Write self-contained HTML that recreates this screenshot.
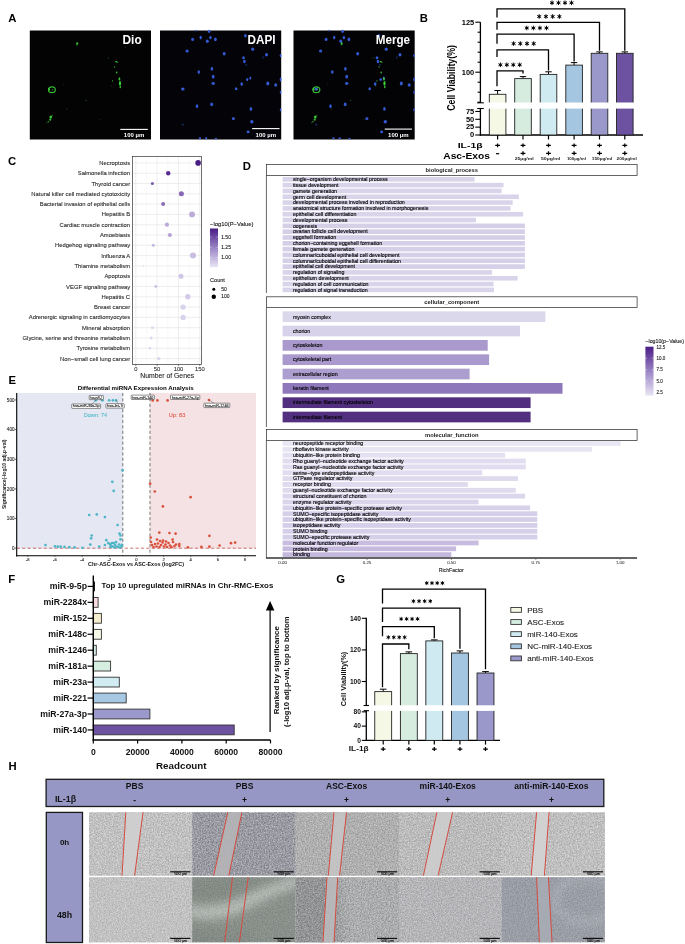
<!DOCTYPE html>
<html><head><meta charset="utf-8"><style>
html,body{margin:0;padding:0;background:#fff;}
svg{display:block;font-family:"Liberation Sans",sans-serif;will-change:transform;}
</style></head><body>
<svg width="685" height="944" viewBox="0 0 685 944">
<rect width="685" height="944" fill="#fff"/>
<text x="8.33" y="21.7" font-size="11.3" font-weight="bold" text-anchor="start" fill="#000">A</text>
<text x="419.7" y="21.6" font-size="11.3" font-weight="bold" text-anchor="start" fill="#000">B</text>
<text x="8.1" y="165.4" font-size="11.3" font-weight="bold" text-anchor="start" fill="#000">C</text>
<text x="242.84" y="169.8" font-size="11.3" font-weight="bold" text-anchor="start" fill="#000">D</text>
<text x="8.58" y="383.7" font-size="11.3" font-weight="bold" text-anchor="start" fill="#000">E</text>
<text x="8.33" y="582.8" font-size="11.3" font-weight="bold" text-anchor="start" fill="#000">F</text>
<text x="336.33" y="582.6" font-size="11.3" font-weight="bold" text-anchor="start" fill="#000">G</text>
<text x="8.43" y="770.1" font-size="11.3" font-weight="bold" text-anchor="start" fill="#000">H</text>
<rect x="29.8" y="30.5" width="121.2" height="109.0" fill="#030303"/>
<rect x="160" y="30.5" width="121.2" height="109.0" fill="#040408"/>
<rect x="293.5" y="30.5" width="121.2" height="109.0" fill="#030306"/>
<g transform="translate(0,0)">
<ellipse cx="195.7" cy="30.6" rx="1.2" ry="0.9" fill="#3459d2" opacity="0.6"/>
<ellipse cx="209.1" cy="31.3" rx="1.3" ry="1.6" fill="#3459d2" opacity="1"/>
<ellipse cx="192.6" cy="39.4" rx="1.4" ry="1.7" fill="#3459d2" opacity="1"/>
<ellipse cx="200.7" cy="37.6" rx="1.2" ry="1.8" fill="#3459d2" opacity="1"/>
<ellipse cx="207.3" cy="41.2" rx="1.5" ry="1.7" fill="#3459d2" opacity="1"/>
<ellipse cx="210.4" cy="37.6" rx="1.3" ry="1.7" fill="#3459d2" opacity="1"/>
<ellipse cx="215.4" cy="39.4" rx="1.4" ry="1.8" fill="#3459d2" opacity="1"/>
<ellipse cx="187.1" cy="51" rx="1.6" ry="1.5" fill="#3459d2" opacity="1"/>
<ellipse cx="224.2" cy="53.7" rx="1.5" ry="1.8" fill="#3459d2" opacity="1"/>
<ellipse cx="252.7" cy="49.2" rx="1.6" ry="1.6" fill="#3459d2" opacity="1"/>
<ellipse cx="245.4" cy="35.7" rx="1.4" ry="1.8" fill="#3459d2" opacity="1"/>
<ellipse cx="266.5" cy="54.7" rx="1.5" ry="1.7" fill="#3459d2" opacity="1"/>
<ellipse cx="280.6" cy="55.6" rx="0.9" ry="1.6" fill="#3459d2" opacity="1"/>
<ellipse cx="243.5" cy="57.8" rx="1.4" ry="1.5" fill="#3459d2" opacity="1"/>
<ellipse cx="244.4" cy="61.5" rx="1.3" ry="1.7" fill="#3459d2" opacity="1"/>
<ellipse cx="246.3" cy="64.8" rx="1.0" ry="1.0" fill="#3459d2" opacity="0.4"/>
<ellipse cx="263.4" cy="57.4" rx="1.0" ry="1.2" fill="#3459d2" opacity="0.35"/>
<ellipse cx="211.9" cy="68.8" rx="1.3" ry="1.9" fill="#3459d2" opacity="1"/>
<ellipse cx="198.8" cy="72.1" rx="1.3" ry="1.8" fill="#3459d2" opacity="1"/>
<ellipse cx="213.2" cy="76.7" rx="1.4" ry="1.9" fill="#3459d2" opacity="1"/>
<ellipse cx="213.2" cy="83.5" rx="1.7" ry="1.4" fill="#3459d2" opacity="1"/>
<ellipse cx="182.8" cy="89.1" rx="1.8" ry="1.5" fill="#3459d2" opacity="1"/>
<ellipse cx="241.7" cy="84.1" rx="1.3" ry="1.8" fill="#3459d2" opacity="1"/>
<ellipse cx="247.2" cy="79.5" rx="1.2" ry="1.6" fill="#3459d2" opacity="1"/>
<ellipse cx="250.3" cy="78" rx="1.0" ry="1.5" fill="#3459d2" opacity="1"/>
<ellipse cx="236.2" cy="88.7" rx="1.3" ry="1.5" fill="#3459d2" opacity="1"/>
<ellipse cx="267.8" cy="83.5" rx="1.5" ry="1.9" fill="#3459d2" opacity="1"/>
<ellipse cx="275.7" cy="85" rx="1.5" ry="1.7" fill="#3459d2" opacity="1"/>
<ellipse cx="280.6" cy="79.5" rx="0.9" ry="1.9" fill="#3459d2" opacity="1"/>
<ellipse cx="280.6" cy="92.4" rx="0.8" ry="1.4" fill="#3459d2" opacity="1"/>
<ellipse cx="197" cy="106.2" rx="1.2" ry="1.9" fill="#3459d2" opacity="1"/>
<ellipse cx="211.7" cy="104.3" rx="1.4" ry="1.9" fill="#3459d2" opacity="1"/>
<ellipse cx="250.9" cy="108.9" rx="1.3" ry="1.9" fill="#3459d2" opacity="1"/>
<ellipse cx="280.6" cy="109.8" rx="0.8" ry="1.5" fill="#3459d2" opacity="1"/>
<ellipse cx="233.4" cy="118.7" rx="1.6" ry="1.4" fill="#3459d2" opacity="1"/>
<ellipse cx="251.8" cy="121.8" rx="1.7" ry="1.8" fill="#3459d2" opacity="1"/>
<ellipse cx="182.8" cy="124.6" rx="1.2" ry="1.2" fill="#3459d2" opacity="0.35"/>
<ellipse cx="248.1" cy="131.9" rx="1.5" ry="1.4" fill="#3459d2" opacity="1"/>
<ellipse cx="199.9" cy="138.2" rx="1.2" ry="1" fill="#3459d2" opacity="1"/>
<ellipse cx="206.2" cy="138.2" rx="1.2" ry="1" fill="#3459d2" opacity="1"/>
<ellipse cx="215.9" cy="138.6" rx="1.2" ry="0.8" fill="#3459d2" opacity="1"/>
</g>
<g transform="translate(133.5,0)">
<ellipse cx="195.7" cy="30.6" rx="1.2" ry="0.9" fill="#3459d2" opacity="0.6"/>
<ellipse cx="209.1" cy="31.3" rx="1.3" ry="1.6" fill="#3459d2" opacity="1"/>
<ellipse cx="192.6" cy="39.4" rx="1.4" ry="1.7" fill="#3459d2" opacity="1"/>
<ellipse cx="200.7" cy="37.6" rx="1.2" ry="1.8" fill="#3459d2" opacity="1"/>
<ellipse cx="207.3" cy="41.2" rx="1.5" ry="1.7" fill="#3459d2" opacity="1"/>
<ellipse cx="210.4" cy="37.6" rx="1.3" ry="1.7" fill="#3459d2" opacity="1"/>
<ellipse cx="215.4" cy="39.4" rx="1.4" ry="1.8" fill="#3459d2" opacity="1"/>
<ellipse cx="187.1" cy="51" rx="1.6" ry="1.5" fill="#3459d2" opacity="1"/>
<ellipse cx="224.2" cy="53.7" rx="1.5" ry="1.8" fill="#3459d2" opacity="1"/>
<ellipse cx="252.7" cy="49.2" rx="1.6" ry="1.6" fill="#3459d2" opacity="1"/>
<ellipse cx="245.4" cy="35.7" rx="1.4" ry="1.8" fill="#3459d2" opacity="1"/>
<ellipse cx="266.5" cy="54.7" rx="1.5" ry="1.7" fill="#3459d2" opacity="1"/>
<ellipse cx="280.6" cy="55.6" rx="0.9" ry="1.6" fill="#3459d2" opacity="1"/>
<ellipse cx="243.5" cy="57.8" rx="1.4" ry="1.5" fill="#3459d2" opacity="1"/>
<ellipse cx="244.4" cy="61.5" rx="1.3" ry="1.7" fill="#3459d2" opacity="1"/>
<ellipse cx="246.3" cy="64.8" rx="1.0" ry="1.0" fill="#3459d2" opacity="0.4"/>
<ellipse cx="263.4" cy="57.4" rx="1.0" ry="1.2" fill="#3459d2" opacity="0.35"/>
<ellipse cx="211.9" cy="68.8" rx="1.3" ry="1.9" fill="#3459d2" opacity="1"/>
<ellipse cx="198.8" cy="72.1" rx="1.3" ry="1.8" fill="#3459d2" opacity="1"/>
<ellipse cx="213.2" cy="76.7" rx="1.4" ry="1.9" fill="#3459d2" opacity="1"/>
<ellipse cx="213.2" cy="83.5" rx="1.7" ry="1.4" fill="#3459d2" opacity="1"/>
<ellipse cx="182.8" cy="89.1" rx="1.8" ry="1.5" fill="#3459d2" opacity="1"/>
<ellipse cx="241.7" cy="84.1" rx="1.3" ry="1.8" fill="#3459d2" opacity="1"/>
<ellipse cx="247.2" cy="79.5" rx="1.2" ry="1.6" fill="#3459d2" opacity="1"/>
<ellipse cx="250.3" cy="78" rx="1.0" ry="1.5" fill="#3459d2" opacity="1"/>
<ellipse cx="236.2" cy="88.7" rx="1.3" ry="1.5" fill="#3459d2" opacity="1"/>
<ellipse cx="267.8" cy="83.5" rx="1.5" ry="1.9" fill="#3459d2" opacity="1"/>
<ellipse cx="275.7" cy="85" rx="1.5" ry="1.7" fill="#3459d2" opacity="1"/>
<ellipse cx="280.6" cy="79.5" rx="0.9" ry="1.9" fill="#3459d2" opacity="1"/>
<ellipse cx="280.6" cy="92.4" rx="0.8" ry="1.4" fill="#3459d2" opacity="1"/>
<ellipse cx="197" cy="106.2" rx="1.2" ry="1.9" fill="#3459d2" opacity="1"/>
<ellipse cx="211.7" cy="104.3" rx="1.4" ry="1.9" fill="#3459d2" opacity="1"/>
<ellipse cx="250.9" cy="108.9" rx="1.3" ry="1.9" fill="#3459d2" opacity="1"/>
<ellipse cx="280.6" cy="109.8" rx="0.8" ry="1.5" fill="#3459d2" opacity="1"/>
<ellipse cx="233.4" cy="118.7" rx="1.6" ry="1.4" fill="#3459d2" opacity="1"/>
<ellipse cx="251.8" cy="121.8" rx="1.7" ry="1.8" fill="#3459d2" opacity="1"/>
<ellipse cx="182.8" cy="124.6" rx="1.2" ry="1.2" fill="#3459d2" opacity="0.35"/>
<ellipse cx="248.1" cy="131.9" rx="1.5" ry="1.4" fill="#3459d2" opacity="1"/>
<ellipse cx="199.9" cy="138.2" rx="1.2" ry="1" fill="#3459d2" opacity="1"/>
<ellipse cx="206.2" cy="138.2" rx="1.2" ry="1" fill="#3459d2" opacity="1"/>
<ellipse cx="215.9" cy="138.6" rx="1.2" ry="0.8" fill="#3459d2" opacity="1"/>
</g>
<g transform="translate(0,0)">
<ellipse cx="51.9" cy="89.7" rx="3.4" ry="2.9" fill="none" stroke="#3ccc38" stroke-width="1.2" opacity="0.9"/>
<ellipse cx="77.2" cy="43.6" rx="1.0" ry="1.3" fill="#3ccc38" opacity="0.95"/>
<ellipse cx="76.6" cy="45.0" rx="0.6" ry="0.6" fill="#3ccc38" opacity="0.6"/>
<ellipse cx="108.6" cy="57.9" rx="0.5" ry="0.5" fill="#3ccc38" opacity="0.6"/>
<ellipse cx="116.3" cy="61.8" rx="1.2" ry="0.8" fill="#3ccc38" opacity="0.9"/>
<ellipse cx="117.6" cy="62.6" rx="0.6" ry="0.5" fill="#3ccc38" opacity="0.8"/>
<ellipse cx="114.5" cy="66.9" rx="0.7" ry="0.7" fill="#3ccc38" opacity="0.8"/>
<ellipse cx="116.7" cy="72.4" rx="0.8" ry="1.0" fill="#3ccc38" opacity="0.9"/>
<ellipse cx="119.4" cy="78.9" rx="0.9" ry="1.6" fill="#3ccc38" opacity="0.95"/>
<ellipse cx="120.0" cy="83.4" rx="1.1" ry="2.4" fill="#3ccc38" opacity="1"/>
<ellipse cx="120.3" cy="87.0" rx="0.8" ry="1.2" fill="#3ccc38" opacity="0.9"/>
<ellipse cx="112.5" cy="80.9" rx="0.6" ry="0.8" fill="#3ccc38" opacity="0.7"/>
<ellipse cx="111.3" cy="85.9" rx="0.4" ry="0.5" fill="#3ccc38" opacity="0.5"/>
<ellipse cx="85.9" cy="100.4" rx="0.5" ry="0.7" fill="#3ccc38" opacity="0.55"/>
<ellipse cx="66.9" cy="109.1" rx="0.5" ry="0.5" fill="#3ccc38" opacity="0.5"/>
<ellipse cx="99.5" cy="119.4" rx="0.45" ry="0.45" fill="#3ccc38" opacity="0.5"/>
<ellipse cx="125.8" cy="47" rx="0.45" ry="0.45" fill="#3ccc38" opacity="0.55"/>
<ellipse cx="63.3" cy="84.5" rx="0.4" ry="0.4" fill="#3ccc38" opacity="0.45"/>
<ellipse cx="50.8" cy="117.0" rx="1.3" ry="1.6" fill="#3ccc38" opacity="1"/>
<ellipse cx="50.2" cy="119.6" rx="1.0" ry="1.2" fill="#3ccc38" opacity="0.9"/>
<ellipse cx="48.4" cy="121.8" rx="0.9" ry="0.7" fill="#3ccc38" opacity="0.7"/>
<ellipse cx="46.9" cy="122.8" rx="0.6" ry="0.5" fill="#3ccc38" opacity="0.5"/>
<ellipse cx="52.3" cy="115.6" rx="0.6" ry="0.6" fill="#3ccc38" opacity="0.7"/>
<ellipse cx="49.0" cy="89.3" rx="1.0" ry="1.4" fill="#3ccc38" opacity="0.95"/>
<ellipse cx="52.5" cy="89.8" rx="0.8" ry="0.8" fill="#3ccc38" opacity="0.6"/>
</g>
<g transform="translate(264.5,0)">
<ellipse cx="51.9" cy="89.7" rx="3.4" ry="2.9" fill="none" stroke="#3ccc38" stroke-width="1.2" opacity="0.9"/>
<ellipse cx="77.2" cy="43.6" rx="1.0" ry="1.3" fill="#3ccc38" opacity="0.95"/>
<ellipse cx="76.6" cy="45.0" rx="0.6" ry="0.6" fill="#3ccc38" opacity="0.6"/>
<ellipse cx="108.6" cy="57.9" rx="0.5" ry="0.5" fill="#3ccc38" opacity="0.6"/>
<ellipse cx="116.3" cy="61.8" rx="1.2" ry="0.8" fill="#3ccc38" opacity="0.9"/>
<ellipse cx="117.6" cy="62.6" rx="0.6" ry="0.5" fill="#3ccc38" opacity="0.8"/>
<ellipse cx="114.5" cy="66.9" rx="0.7" ry="0.7" fill="#3ccc38" opacity="0.8"/>
<ellipse cx="116.7" cy="72.4" rx="0.8" ry="1.0" fill="#3ccc38" opacity="0.9"/>
<ellipse cx="119.4" cy="78.9" rx="0.9" ry="1.6" fill="#3ccc38" opacity="0.95"/>
<ellipse cx="120.0" cy="83.4" rx="1.1" ry="2.4" fill="#3ccc38" opacity="1"/>
<ellipse cx="120.3" cy="87.0" rx="0.8" ry="1.2" fill="#3ccc38" opacity="0.9"/>
<ellipse cx="112.5" cy="80.9" rx="0.6" ry="0.8" fill="#3ccc38" opacity="0.7"/>
<ellipse cx="111.3" cy="85.9" rx="0.4" ry="0.5" fill="#3ccc38" opacity="0.5"/>
<ellipse cx="85.9" cy="100.4" rx="0.5" ry="0.7" fill="#3ccc38" opacity="0.55"/>
<ellipse cx="66.9" cy="109.1" rx="0.5" ry="0.5" fill="#3ccc38" opacity="0.5"/>
<ellipse cx="99.5" cy="119.4" rx="0.45" ry="0.45" fill="#3ccc38" opacity="0.5"/>
<ellipse cx="125.8" cy="47" rx="0.45" ry="0.45" fill="#3ccc38" opacity="0.55"/>
<ellipse cx="63.3" cy="84.5" rx="0.4" ry="0.4" fill="#3ccc38" opacity="0.45"/>
<ellipse cx="50.8" cy="117.0" rx="1.3" ry="1.6" fill="#3ccc38" opacity="1"/>
<ellipse cx="50.2" cy="119.6" rx="1.0" ry="1.2" fill="#3ccc38" opacity="0.9"/>
<ellipse cx="48.4" cy="121.8" rx="0.9" ry="0.7" fill="#3ccc38" opacity="0.7"/>
<ellipse cx="46.9" cy="122.8" rx="0.6" ry="0.5" fill="#3ccc38" opacity="0.5"/>
<ellipse cx="52.3" cy="115.6" rx="0.6" ry="0.6" fill="#3ccc38" opacity="0.7"/>
<ellipse cx="49.0" cy="89.3" rx="1.0" ry="1.4" fill="#3ccc38" opacity="0.95"/>
<ellipse cx="52.5" cy="89.8" rx="0.8" ry="0.8" fill="#3ccc38" opacity="0.6"/>
</g>
<text x="122.5" y="43.9" font-size="12.4" font-weight="bold" text-anchor="start" fill="#fff" textLength="19.2" lengthAdjust="spacingAndGlyphs">Dio</text>
<text x="247.5" y="43.9" font-size="12.4" font-weight="bold" text-anchor="start" fill="#fff" textLength="28.0" lengthAdjust="spacingAndGlyphs">DAPI</text>
<text x="375.8" y="43.9" font-size="12.4" font-weight="bold" text-anchor="start" fill="#fff" textLength="34.3" lengthAdjust="spacingAndGlyphs">Merge</text>
<line x1="120.3" y1="129.4" x2="147.8" y2="129.4" stroke="#fff" stroke-width="1.1"/>
<text x="134.05" y="136.6" font-size="5.2" font-weight="bold" text-anchor="middle" fill="#fff" textLength="20.5" lengthAdjust="spacingAndGlyphs">100 µm</text>
<line x1="252.1" y1="128.6" x2="279.5" y2="128.6" stroke="#fff" stroke-width="1.1"/>
<text x="265.8" y="136.6" font-size="5.2" font-weight="bold" text-anchor="middle" fill="#fff" textLength="20.5" lengthAdjust="spacingAndGlyphs">100 µm</text>
<line x1="384.7" y1="129.1" x2="412" y2="129.1" stroke="#fff" stroke-width="1.1"/>
<text x="398.35" y="136.6" font-size="5.2" font-weight="bold" text-anchor="middle" fill="#fff" textLength="20.5" lengthAdjust="spacingAndGlyphs">100 µm</text>
<line x1="480.4" y1="22.2" x2="480.4" y2="102.8" stroke="#000" stroke-width="1.3"/>
<line x1="480.4" y1="108.5" x2="480.4" y2="135.6" stroke="#000" stroke-width="1.3"/>
<line x1="477.2" y1="102.8" x2="483.8" y2="102.8" stroke="#000" stroke-width="1.1"/>
<line x1="477.2" y1="108.5" x2="483.8" y2="108.5" stroke="#000" stroke-width="1.1"/>
<line x1="477.6" y1="102.2" x2="480.4" y2="102.2" stroke="#000" stroke-width="1.1"/>
<line x1="477.6" y1="92.2" x2="480.4" y2="92.2" stroke="#000" stroke-width="1.1"/>
<line x1="477.6" y1="82.2" x2="480.4" y2="82.2" stroke="#000" stroke-width="1.1"/>
<line x1="475.3" y1="72.2" x2="480.4" y2="72.2" stroke="#000" stroke-width="1.1"/>
<text x="474.2" y="74.5" font-size="6.4" font-weight="bold" text-anchor="end" fill="#000" textLength="12.4" lengthAdjust="spacingAndGlyphs">100</text>
<line x1="477.6" y1="62.2" x2="480.4" y2="62.2" stroke="#000" stroke-width="1.1"/>
<line x1="477.6" y1="52.2" x2="480.4" y2="52.2" stroke="#000" stroke-width="1.1"/>
<line x1="477.6" y1="42.2" x2="480.4" y2="42.2" stroke="#000" stroke-width="1.1"/>
<line x1="477.6" y1="32.2" x2="480.4" y2="32.2" stroke="#000" stroke-width="1.1"/>
<line x1="475.3" y1="22.200000000000003" x2="480.4" y2="22.200000000000003" stroke="#000" stroke-width="1.1"/>
<text x="474.2" y="24.500000000000004" font-size="6.4" font-weight="bold" text-anchor="end" fill="#000" textLength="12.4" lengthAdjust="spacingAndGlyphs">125</text>
<line x1="475.3" y1="135.0" x2="480.4" y2="135.0" stroke="#000" stroke-width="1.1"/>
<text x="474.2" y="137.3" font-size="6.4" font-weight="bold" text-anchor="end" fill="#000" textLength="4.2" lengthAdjust="spacingAndGlyphs">0</text>
<line x1="475.3" y1="127.15" x2="480.4" y2="127.15" stroke="#000" stroke-width="1.1"/>
<text x="474.2" y="129.45000000000002" font-size="6.4" font-weight="bold" text-anchor="end" fill="#000" textLength="8.3" lengthAdjust="spacingAndGlyphs">25</text>
<line x1="475.3" y1="119.3" x2="480.4" y2="119.3" stroke="#000" stroke-width="1.1"/>
<text x="474.2" y="121.6" font-size="6.4" font-weight="bold" text-anchor="end" fill="#000" textLength="8.3" lengthAdjust="spacingAndGlyphs">50</text>
<line x1="475.3" y1="111.45" x2="480.4" y2="111.45" stroke="#000" stroke-width="1.1"/>
<text x="474.2" y="113.75" font-size="6.4" font-weight="bold" text-anchor="end" fill="#000" textLength="8.3" lengthAdjust="spacingAndGlyphs">75</text>
<line x1="479.79999999999995" y1="135.0" x2="643" y2="135.0" stroke="#000" stroke-width="1.4"/>
<line x1="497.6" y1="90.5" x2="497.6" y2="94.3" stroke="#000" stroke-width="1"/>
<line x1="494.40000000000003" y1="90.5" x2="500.8" y2="90.5" stroke="#000" stroke-width="1"/>
<rect x="489.3" y="94.3" width="16.6" height="40.7" fill="#f6f8e6" stroke="#222" stroke-width="0.9"/>
<line x1="497.6" y1="135" x2="497.6" y2="139.5" stroke="#000" stroke-width="1.2"/>
<line x1="523.0" y1="76.6" x2="523.0" y2="78.6" stroke="#000" stroke-width="1"/>
<line x1="519.8" y1="76.6" x2="526.2" y2="76.6" stroke="#000" stroke-width="1"/>
<rect x="514.7" y="78.6" width="16.6" height="56.400000000000006" fill="#d6ecdf" stroke="#222" stroke-width="0.9"/>
<line x1="523.0" y1="135" x2="523.0" y2="139.5" stroke="#000" stroke-width="1.2"/>
<line x1="548.5" y1="71.8" x2="548.5" y2="74.4" stroke="#000" stroke-width="1"/>
<line x1="545.3" y1="71.8" x2="551.7" y2="71.8" stroke="#000" stroke-width="1"/>
<rect x="540.2" y="74.4" width="16.6" height="60.599999999999994" fill="#d0eaf1" stroke="#222" stroke-width="0.9"/>
<line x1="548.5" y1="135" x2="548.5" y2="139.5" stroke="#000" stroke-width="1.2"/>
<line x1="574.1" y1="62.6" x2="574.1" y2="65.1" stroke="#000" stroke-width="1"/>
<line x1="570.9" y1="62.6" x2="577.3000000000001" y2="62.6" stroke="#000" stroke-width="1"/>
<rect x="565.8000000000001" y="65.1" width="16.6" height="69.9" fill="#a5c6e1" stroke="#222" stroke-width="0.9"/>
<line x1="574.1" y1="135" x2="574.1" y2="139.5" stroke="#000" stroke-width="1.2"/>
<line x1="599.5" y1="51.9" x2="599.5" y2="53.3" stroke="#000" stroke-width="1"/>
<line x1="596.3" y1="51.9" x2="602.7" y2="51.9" stroke="#000" stroke-width="1"/>
<rect x="591.2" y="53.3" width="16.6" height="81.7" fill="#9a98cb" stroke="#222" stroke-width="0.9"/>
<line x1="599.5" y1="135" x2="599.5" y2="139.5" stroke="#000" stroke-width="1.2"/>
<line x1="624.8" y1="51.9" x2="624.8" y2="53.3" stroke="#000" stroke-width="1"/>
<line x1="621.5999999999999" y1="51.9" x2="628.0" y2="51.9" stroke="#000" stroke-width="1"/>
<rect x="616.5" y="53.3" width="16.6" height="81.7" fill="#6c52a1" stroke="#222" stroke-width="0.9"/>
<line x1="624.8" y1="135" x2="624.8" y2="139.5" stroke="#000" stroke-width="1.2"/>
<rect x="485" y="102.5" width="160" height="6.1" fill="#fff"/>
<polyline points="497,86.3 497,70.9 523.0,70.9 523.0,73.6" fill="none" stroke="#000" stroke-width="1.3"/>
<polyline points="497,56.9 497,49.9 548.5,49.9 548.5,70.6" fill="none" stroke="#000" stroke-width="1.3"/>
<polyline points="497,43.8 497,34.2 574.1,34.2 574.1,61.5" fill="none" stroke="#000" stroke-width="1.3"/>
<polyline points="497,29.8 497,22.4 599.5,22.4 599.5,50.8" fill="none" stroke="#000" stroke-width="1.3"/>
<polyline points="497,17.5 497,8.8 624.8,8.8 624.8,50.8" fill="none" stroke="#000" stroke-width="1.3"/>
<path d="M500.40,62.50L500.40,67.10M498.41,63.65L502.39,65.95M502.39,63.65L498.41,65.95" stroke="#000" stroke-width="0.95" fill="none"/>
<circle cx="500.40" cy="64.80" r="1.03" fill="#000"/>
<path d="M506.83,62.50L506.83,67.10M504.84,63.65L508.83,65.95M508.83,63.65L504.84,65.95" stroke="#000" stroke-width="0.95" fill="none"/>
<circle cx="506.83" cy="64.80" r="1.03" fill="#000"/>
<path d="M513.27,62.50L513.27,67.10M511.27,63.65L515.26,65.95M515.26,63.65L511.27,65.95" stroke="#000" stroke-width="0.95" fill="none"/>
<circle cx="513.27" cy="64.80" r="1.03" fill="#000"/>
<path d="M519.70,62.50L519.70,67.10M517.71,63.65L521.69,65.95M521.69,63.65L517.71,65.95" stroke="#000" stroke-width="0.95" fill="none"/>
<circle cx="519.70" cy="64.80" r="1.03" fill="#000"/>
<path d="M513.60,41.30L513.60,45.90M511.61,42.45L515.59,44.75M515.59,42.45L511.61,44.75" stroke="#000" stroke-width="0.95" fill="none"/>
<circle cx="513.60" cy="43.60" r="1.03" fill="#000"/>
<path d="M520.30,41.30L520.30,45.90M518.31,42.45L522.29,44.75M522.29,42.45L518.31,44.75" stroke="#000" stroke-width="0.95" fill="none"/>
<circle cx="520.30" cy="43.60" r="1.03" fill="#000"/>
<path d="M527.00,41.30L527.00,45.90M525.01,42.45L528.99,44.75M528.99,42.45L525.01,44.75" stroke="#000" stroke-width="0.95" fill="none"/>
<circle cx="527.00" cy="43.60" r="1.03" fill="#000"/>
<path d="M533.70,41.30L533.70,45.90M531.71,42.45L535.69,44.75M535.69,42.45L531.71,44.75" stroke="#000" stroke-width="0.95" fill="none"/>
<circle cx="533.70" cy="43.60" r="1.03" fill="#000"/>
<path d="M526.80,25.70L526.80,30.30M524.81,26.85L528.79,29.15M528.79,26.85L524.81,29.15" stroke="#000" stroke-width="0.95" fill="none"/>
<circle cx="526.80" cy="28.00" r="1.03" fill="#000"/>
<path d="M533.37,25.70L533.37,30.30M531.37,26.85L535.36,29.15M535.36,26.85L531.37,29.15" stroke="#000" stroke-width="0.95" fill="none"/>
<circle cx="533.37" cy="28.00" r="1.03" fill="#000"/>
<path d="M539.93,25.70L539.93,30.30M537.94,26.85L541.93,29.15M541.93,26.85L537.94,29.15" stroke="#000" stroke-width="0.95" fill="none"/>
<circle cx="539.93" cy="28.00" r="1.03" fill="#000"/>
<path d="M546.50,25.70L546.50,30.30M544.51,26.85L548.49,29.15M548.49,26.85L544.51,29.15" stroke="#000" stroke-width="0.95" fill="none"/>
<circle cx="546.50" cy="28.00" r="1.03" fill="#000"/>
<path d="M539.20,14.20L539.20,18.80M537.21,15.35L541.19,17.65M541.19,15.35L537.21,17.65" stroke="#000" stroke-width="0.95" fill="none"/>
<circle cx="539.20" cy="16.50" r="1.03" fill="#000"/>
<path d="M545.93,14.20L545.93,18.80M543.94,15.35L547.93,17.65M547.93,15.35L543.94,17.65" stroke="#000" stroke-width="0.95" fill="none"/>
<circle cx="545.93" cy="16.50" r="1.03" fill="#000"/>
<path d="M552.67,14.20L552.67,18.80M550.67,15.35L554.66,17.65M554.66,15.35L550.67,17.65" stroke="#000" stroke-width="0.95" fill="none"/>
<circle cx="552.67" cy="16.50" r="1.03" fill="#000"/>
<path d="M559.40,14.20L559.40,18.80M557.41,15.35L561.39,17.65M561.39,15.35L557.41,17.65" stroke="#000" stroke-width="0.95" fill="none"/>
<circle cx="559.40" cy="16.50" r="1.03" fill="#000"/>
<path d="M552.00,0.50L552.00,5.10M550.01,1.65L553.99,3.95M553.99,1.65L550.01,3.95" stroke="#000" stroke-width="0.95" fill="none"/>
<circle cx="552.00" cy="2.80" r="1.03" fill="#000"/>
<path d="M558.50,0.50L558.50,5.10M556.51,1.65L560.49,3.95M560.49,1.65L556.51,3.95" stroke="#000" stroke-width="0.95" fill="none"/>
<circle cx="558.50" cy="2.80" r="1.03" fill="#000"/>
<path d="M565.00,0.50L565.00,5.10M563.01,1.65L566.99,3.95M566.99,1.65L563.01,3.95" stroke="#000" stroke-width="0.95" fill="none"/>
<circle cx="565.00" cy="2.80" r="1.03" fill="#000"/>
<path d="M571.50,0.50L571.50,5.10M569.51,1.65L573.49,3.95M573.49,1.65L569.51,3.95" stroke="#000" stroke-width="0.95" fill="none"/>
<circle cx="571.50" cy="2.80" r="1.03" fill="#000"/>
<text x="457.7" y="147.8" font-size="7.7" font-weight="bold" text-anchor="start" fill="#000" textLength="25" lengthAdjust="spacingAndGlyphs">IL-1β</text>
<text x="443.3" y="158.7" font-size="8.6" font-weight="bold" text-anchor="start" fill="#000" textLength="46.6" lengthAdjust="spacingAndGlyphs">Asc-Exos</text>
<path d="M495.20,145.40H500.00M497.60,143.45V147.35" stroke="#000" stroke-width="1.25" fill="none"/>
<path d="M496.00,153.70H499.20" stroke="#000" stroke-width="1.2" fill="none"/>
<path d="M520.60,145.40H525.40M523.00,143.45V147.35" stroke="#000" stroke-width="1.25" fill="none"/>
<path d="M520.60,153.30H525.40M523.00,151.35V155.25" stroke="#000" stroke-width="1.25" fill="none"/>
<path d="M546.10,145.40H550.90M548.50,143.45V147.35" stroke="#000" stroke-width="1.25" fill="none"/>
<path d="M546.10,153.30H550.90M548.50,151.35V155.25" stroke="#000" stroke-width="1.25" fill="none"/>
<path d="M571.70,145.40H576.50M574.10,143.45V147.35" stroke="#000" stroke-width="1.25" fill="none"/>
<path d="M571.70,153.30H576.50M574.10,151.35V155.25" stroke="#000" stroke-width="1.25" fill="none"/>
<path d="M597.10,145.40H601.90M599.50,143.45V147.35" stroke="#000" stroke-width="1.25" fill="none"/>
<path d="M597.10,153.30H601.90M599.50,151.35V155.25" stroke="#000" stroke-width="1.25" fill="none"/>
<path d="M622.40,145.40H627.20M624.80,143.45V147.35" stroke="#000" stroke-width="1.25" fill="none"/>
<path d="M622.40,153.30H627.20M624.80,151.35V155.25" stroke="#000" stroke-width="1.25" fill="none"/>
<text x="524.2" y="159.5" font-size="4.0" font-weight="bold" text-anchor="middle" fill="#222" textLength="19" lengthAdjust="spacingAndGlyphs">25µg/ml</text>
<text x="550.6" y="159.5" font-size="4.0" font-weight="bold" text-anchor="middle" fill="#222" textLength="19.3" lengthAdjust="spacingAndGlyphs">50µg/ml</text>
<text x="576.4" y="159.5" font-size="4.0" font-weight="bold" text-anchor="middle" fill="#222" textLength="19" lengthAdjust="spacingAndGlyphs">100µg/ml</text>
<text x="602.0" y="159.5" font-size="4.0" font-weight="bold" text-anchor="middle" fill="#222" textLength="20.5" lengthAdjust="spacingAndGlyphs">150µg/ml</text>
<text x="626.7" y="159.5" font-size="4.0" font-weight="bold" text-anchor="middle" fill="#222" textLength="20.2" lengthAdjust="spacingAndGlyphs">200µg/ml</text>
<text transform="translate(455.3,110.8) rotate(-90)" font-size="11" font-weight="bold" text-anchor="start" fill="#000" textLength="65.7" lengthAdjust="spacingAndGlyphs">Cell Viability(%)</text>
<rect x="132.5" y="156.5" width="69.1" height="207.89999999999998" fill="#fff"/>
<line x1="146.4625" y1="156.5" x2="146.4625" y2="364.4" stroke="#f2f2f2" stroke-width="0.5"/>
<line x1="167.78750000000002" y1="156.5" x2="167.78750000000002" y2="364.4" stroke="#f2f2f2" stroke-width="0.5"/>
<line x1="189.1125" y1="156.5" x2="189.1125" y2="364.4" stroke="#f2f2f2" stroke-width="0.5"/>
<line x1="135.8" y1="156.5" x2="135.8" y2="364.4" stroke="#e6e6e6" stroke-width="0.7"/>
<line x1="157.125" y1="156.5" x2="157.125" y2="364.4" stroke="#e6e6e6" stroke-width="0.7"/>
<line x1="178.45000000000002" y1="156.5" x2="178.45000000000002" y2="364.4" stroke="#e6e6e6" stroke-width="0.7"/>
<line x1="199.775" y1="156.5" x2="199.775" y2="364.4" stroke="#e6e6e6" stroke-width="0.7"/>
<line x1="132.5" y1="162.9" x2="201.6" y2="162.9" stroke="#e6e6e6" stroke-width="0.7"/>
<line x1="132.5" y1="173.20000000000002" x2="201.6" y2="173.20000000000002" stroke="#e6e6e6" stroke-width="0.7"/>
<line x1="132.5" y1="183.5" x2="201.6" y2="183.5" stroke="#e6e6e6" stroke-width="0.7"/>
<line x1="132.5" y1="193.8" x2="201.6" y2="193.8" stroke="#e6e6e6" stroke-width="0.7"/>
<line x1="132.5" y1="204.10000000000002" x2="201.6" y2="204.10000000000002" stroke="#e6e6e6" stroke-width="0.7"/>
<line x1="132.5" y1="214.4" x2="201.6" y2="214.4" stroke="#e6e6e6" stroke-width="0.7"/>
<line x1="132.5" y1="224.70000000000002" x2="201.6" y2="224.70000000000002" stroke="#e6e6e6" stroke-width="0.7"/>
<line x1="132.5" y1="235.0" x2="201.6" y2="235.0" stroke="#e6e6e6" stroke-width="0.7"/>
<line x1="132.5" y1="245.3" x2="201.6" y2="245.3" stroke="#e6e6e6" stroke-width="0.7"/>
<line x1="132.5" y1="255.60000000000002" x2="201.6" y2="255.60000000000002" stroke="#e6e6e6" stroke-width="0.7"/>
<line x1="132.5" y1="265.9" x2="201.6" y2="265.9" stroke="#e6e6e6" stroke-width="0.7"/>
<line x1="132.5" y1="276.20000000000005" x2="201.6" y2="276.20000000000005" stroke="#e6e6e6" stroke-width="0.7"/>
<line x1="132.5" y1="286.5" x2="201.6" y2="286.5" stroke="#e6e6e6" stroke-width="0.7"/>
<line x1="132.5" y1="296.8" x2="201.6" y2="296.8" stroke="#e6e6e6" stroke-width="0.7"/>
<line x1="132.5" y1="307.1" x2="201.6" y2="307.1" stroke="#e6e6e6" stroke-width="0.7"/>
<line x1="132.5" y1="317.4" x2="201.6" y2="317.4" stroke="#e6e6e6" stroke-width="0.7"/>
<line x1="132.5" y1="327.70000000000005" x2="201.6" y2="327.70000000000005" stroke="#e6e6e6" stroke-width="0.7"/>
<line x1="132.5" y1="338.0" x2="201.6" y2="338.0" stroke="#e6e6e6" stroke-width="0.7"/>
<line x1="132.5" y1="348.3" x2="201.6" y2="348.3" stroke="#e6e6e6" stroke-width="0.7"/>
<line x1="132.5" y1="358.6" x2="201.6" y2="358.6" stroke="#e6e6e6" stroke-width="0.7"/>
<circle cx="198.1" cy="162.9" r="2.8" fill="#4a1c86"/>
<text x="130.1" y="164.9" font-size="5.85" text-anchor="end" fill="#2a2a2a" stroke="#2a2a2a" stroke-width="0.1">Necroptosis</text>
<circle cx="168.2" cy="173.2" r="2.2" fill="#5a2b95"/>
<text x="130.1" y="175.2" font-size="5.85" text-anchor="end" fill="#2a2a2a" stroke="#2a2a2a" stroke-width="0.1">Salmonella infection</text>
<circle cx="152.4" cy="183.5" r="1.6" fill="#7d5bb0"/>
<text x="130.1" y="185.5" font-size="5.85" text-anchor="end" fill="#2a2a2a" stroke="#2a2a2a" stroke-width="0.1">Thyroid cancer</text>
<circle cx="181.4" cy="193.8" r="2.5" fill="#8866b6"/>
<text x="130.1" y="195.8" font-size="5.85" text-anchor="end" fill="#2a2a2a" stroke="#2a2a2a" stroke-width="0.1">Natural killer cell mediated cytotoxicity</text>
<circle cx="163.1" cy="204.1" r="2.0" fill="#8a6db8"/>
<text x="130.1" y="206.1" font-size="5.85" text-anchor="end" fill="#2a2a2a" stroke="#2a2a2a" stroke-width="0.1">Bacterial invasion of epithelial cells</text>
<circle cx="192.1" cy="214.4" r="2.9" fill="#bcaad8"/>
<text x="130.1" y="216.4" font-size="5.85" text-anchor="end" fill="#2a2a2a" stroke="#2a2a2a" stroke-width="0.1">Hepatitis B</text>
<circle cx="166.9" cy="224.7" r="2.1" fill="#bba9d7"/>
<text x="130.1" y="226.7" font-size="5.85" text-anchor="end" fill="#2a2a2a" stroke="#2a2a2a" stroke-width="0.1">Cardiac muscle contraction</text>
<circle cx="169.9" cy="235.0" r="2.1" fill="#b7a3d4"/>
<text x="130.1" y="237.0" font-size="5.85" text-anchor="end" fill="#2a2a2a" stroke="#2a2a2a" stroke-width="0.1">Amoebiasis</text>
<circle cx="153.3" cy="245.3" r="1.5" fill="#c4b6de"/>
<text x="130.1" y="247.3" font-size="5.85" text-anchor="end" fill="#2a2a2a" stroke="#2a2a2a" stroke-width="0.1">Hedgehog signaling pathway</text>
<circle cx="193.0" cy="255.6" r="3.0" fill="#c9bde1"/>
<text x="130.1" y="257.6" font-size="5.85" text-anchor="end" fill="#2a2a2a" stroke="#2a2a2a" stroke-width="0.1">Influenza A</text>
<circle cx="143.5" cy="265.9" r="0.5" fill="#cfc6e6"/>
<text x="130.1" y="267.9" font-size="5.85" text-anchor="end" fill="#2a2a2a" stroke="#2a2a2a" stroke-width="0.1">Thiamine metabolism</text>
<circle cx="181.0" cy="276.2" r="2.5" fill="#d0c6e6"/>
<text x="130.1" y="278.2" font-size="5.85" text-anchor="end" fill="#2a2a2a" stroke="#2a2a2a" stroke-width="0.1">Apoptosis</text>
<circle cx="155.8" cy="286.5" r="1.4" fill="#ccc0e3"/>
<text x="130.1" y="288.5" font-size="5.85" text-anchor="end" fill="#2a2a2a" stroke="#2a2a2a" stroke-width="0.1">VEGF signaling pathway</text>
<circle cx="187.8" cy="296.8" r="2.7" fill="#d4cbe9"/>
<text x="130.1" y="298.8" font-size="5.85" text-anchor="end" fill="#2a2a2a" stroke="#2a2a2a" stroke-width="0.1">Hepatitis C</text>
<circle cx="183.1" cy="307.1" r="2.7" fill="#d9d2ec"/>
<text x="130.1" y="309.1" font-size="5.85" text-anchor="end" fill="#2a2a2a" stroke="#2a2a2a" stroke-width="0.1">Breast cancer</text>
<circle cx="183.1" cy="317.4" r="2.7" fill="#d9d2ec"/>
<text x="130.1" y="319.4" font-size="5.85" text-anchor="end" fill="#2a2a2a" stroke="#2a2a2a" stroke-width="0.1">Adrenergic signaling in cardiomyocytes</text>
<circle cx="152.4" cy="327.7" r="1.4" fill="#dcd6ee"/>
<text x="130.1" y="329.7" font-size="5.85" text-anchor="end" fill="#2a2a2a" stroke="#2a2a2a" stroke-width="0.1">Mineral absorption</text>
<circle cx="151.2" cy="338.0" r="1.4" fill="#dcd6ee"/>
<text x="130.1" y="340.0" font-size="5.85" text-anchor="end" fill="#2a2a2a" stroke="#2a2a2a" stroke-width="0.1">Glycine, serine and threonine metabolism</text>
<circle cx="149.9" cy="348.3" r="1.3" fill="#dcd6ee"/>
<text x="130.1" y="350.3" font-size="5.85" text-anchor="end" fill="#2a2a2a" stroke="#2a2a2a" stroke-width="0.1">Tyrosine metabolism</text>
<circle cx="158.8" cy="358.6" r="1.7" fill="#dbd5ee"/>
<text x="130.1" y="360.6" font-size="5.85" text-anchor="end" fill="#2a2a2a" stroke="#2a2a2a" stroke-width="0.1">Non−small cell lung cancer</text>
<rect x="132.5" y="156.5" width="69.1" height="207.89999999999998" fill="none" stroke="#333" stroke-width="0.7"/>
<line x1="135.8" y1="364.4" x2="135.8" y2="366.0" stroke="#333" stroke-width="0.6"/>
<text x="135.8" y="371.3" font-size="5.8" text-anchor="middle" fill="#333" stroke="#333" stroke-width="0.1">0</text>
<line x1="157.125" y1="364.4" x2="157.125" y2="366.0" stroke="#333" stroke-width="0.6"/>
<text x="157.1" y="371.3" font-size="5.8" text-anchor="middle" fill="#333" stroke="#333" stroke-width="0.1">50</text>
<line x1="178.45000000000002" y1="364.4" x2="178.45000000000002" y2="366.0" stroke="#333" stroke-width="0.6"/>
<text x="178.5" y="371.3" font-size="5.8" text-anchor="middle" fill="#333" stroke="#333" stroke-width="0.1">100</text>
<line x1="199.775" y1="364.4" x2="199.775" y2="366.0" stroke="#333" stroke-width="0.6"/>
<text x="199.8" y="371.3" font-size="5.8" text-anchor="middle" fill="#333" stroke="#333" stroke-width="0.1">150</text>
<text x="167.2" y="378.4" font-size="7.4" text-anchor="middle" fill="#1a1a1a" textLength="54" lengthAdjust="spacingAndGlyphs" stroke="#1a1a1a" stroke-width="0.1">Number of Genes</text>
<text x="210" y="225.6" font-size="5.0" text-anchor="start" fill="#1a1a1a" textLength="43.5" lengthAdjust="spacingAndGlyphs" stroke="#1a1a1a" stroke-width="0.1">−log10(P−Value)</text>
<defs><linearGradient id="cg" x1="0" y1="0" x2="0" y2="1"><stop offset="0" stop-color="#4a1c86"/><stop offset="0.5" stop-color="#9b85c6"/><stop offset="1" stop-color="#e9e5f4"/></linearGradient><linearGradient id="dg" x1="0" y1="0" x2="0" y2="1"><stop offset="0" stop-color="#4a1c86"/><stop offset="0.5" stop-color="#9b85c6"/><stop offset="1" stop-color="#e9e5f4"/></linearGradient></defs>
<rect x="210" y="228.5" width="8" height="38.7" fill="url(#cg)"/>
<line x1="210" y1="237" x2="211.5" y2="237" stroke="#fff" stroke-width="0.4"/>
<line x1="216.5" y1="237" x2="218" y2="237" stroke="#fff" stroke-width="0.4"/>
<text x="221.2" y="238.8" font-size="5.0" text-anchor="start" fill="#1a1a1a" stroke="#1a1a1a" stroke-width="0.1">1.50</text>
<line x1="210" y1="247.3" x2="211.5" y2="247.3" stroke="#fff" stroke-width="0.4"/>
<line x1="216.5" y1="247.3" x2="218" y2="247.3" stroke="#fff" stroke-width="0.4"/>
<text x="221.2" y="249.10000000000002" font-size="5.0" text-anchor="start" fill="#1a1a1a" stroke="#1a1a1a" stroke-width="0.1">1.25</text>
<line x1="210" y1="257.5" x2="211.5" y2="257.5" stroke="#fff" stroke-width="0.4"/>
<line x1="216.5" y1="257.5" x2="218" y2="257.5" stroke="#fff" stroke-width="0.4"/>
<text x="221.2" y="259.3" font-size="5.0" text-anchor="start" fill="#1a1a1a" stroke="#1a1a1a" stroke-width="0.1">1.00</text>
<text x="210" y="282" font-size="5.6" text-anchor="start" fill="#1a1a1a" stroke="#1a1a1a" stroke-width="0.1">Count</text>
<circle cx="213.8" cy="289.2" r="1.5" fill="#000"/>
<circle cx="213.8" cy="296.7" r="2.2" fill="#000"/>
<text x="221.2" y="290.9" font-size="5.0" text-anchor="start" fill="#1a1a1a" stroke="#1a1a1a" stroke-width="0.1">50</text>
<text x="221.2" y="298.4" font-size="5.0" text-anchor="start" fill="#1a1a1a" stroke="#1a1a1a" stroke-width="0.1">100</text>
<rect x="266.4" y="164.4" width="370.70000000000005" height="11.0" fill="#fff" stroke="#333" stroke-width="0.75"/>
<text x="451.75" y="171.9" font-size="5.8" font-weight="bold" text-anchor="middle" fill="#1a1a1a">biological_process</text>
<rect x="282.6" y="177.0" width="192.0" height="4.6" fill="#d9d4ea"/>
<rect x="282.6" y="182.82" width="220.9" height="4.6" fill="#d9d4ea"/>
<rect x="282.6" y="188.64" width="219.0" height="4.6" fill="#d9d4ea"/>
<rect x="282.6" y="194.46" width="236.2" height="4.6" fill="#d9d4ea"/>
<rect x="282.6" y="200.28" width="230.1" height="4.6" fill="#d9d4ea"/>
<rect x="282.6" y="206.1" width="227.9" height="4.6" fill="#d9d4ea"/>
<rect x="282.6" y="211.92" width="240.5" height="4.6" fill="#d9d4ea"/>
<rect x="282.6" y="217.74" width="193.3" height="4.6" fill="#d9d4ea"/>
<rect x="282.6" y="223.56" width="242.3" height="4.6" fill="#d5cfe8"/>
<rect x="282.6" y="229.38" width="242.3" height="4.6" fill="#d5cfe8"/>
<rect x="282.6" y="235.2" width="242.3" height="4.6" fill="#d5cfe8"/>
<rect x="282.6" y="241.02" width="242.3" height="4.6" fill="#d5cfe8"/>
<rect x="282.6" y="246.84" width="242.3" height="4.6" fill="#d5cfe8"/>
<rect x="282.6" y="252.66" width="242.3" height="4.6" fill="#d5cfe8"/>
<rect x="282.6" y="258.48" width="242.3" height="4.6" fill="#d5cfe8"/>
<rect x="282.6" y="264.3" width="242.3" height="4.6" fill="#d5cfe8"/>
<rect x="282.6" y="270.12" width="209.5" height="4.6" fill="#d9d4ea"/>
<rect x="282.6" y="275.94" width="235.0" height="4.6" fill="#d9d4ea"/>
<rect x="282.6" y="281.76" width="211.0" height="4.6" fill="#d9d4ea"/>
<rect x="282.6" y="287.58" width="211.4" height="4.6" fill="#d9d4ea"/>
<text x="292.9" y="181.1" font-size="5.3" text-anchor="start" fill="#000" stroke="#000" stroke-width="0.12">single−organism developmental process</text>
<text x="292.9" y="186.92" font-size="5.3" text-anchor="start" fill="#000" stroke="#000" stroke-width="0.12">tissue development</text>
<text x="292.9" y="192.74" font-size="5.3" text-anchor="start" fill="#000" stroke="#000" stroke-width="0.12">gamete generation</text>
<text x="292.9" y="198.56" font-size="5.3" text-anchor="start" fill="#000" stroke="#000" stroke-width="0.12">germ cell development</text>
<text x="292.9" y="204.38" font-size="5.3" text-anchor="start" fill="#000" stroke="#000" stroke-width="0.12">developmental process involved in reproduction</text>
<text x="292.9" y="210.2" font-size="5.3" text-anchor="start" fill="#000" stroke="#000" stroke-width="0.12">anatomical structure formation involved in morphogenesis</text>
<text x="292.9" y="216.02" font-size="5.3" text-anchor="start" fill="#000" stroke="#000" stroke-width="0.12">epithelial cell differentiation</text>
<text x="292.9" y="221.84" font-size="5.3" text-anchor="start" fill="#000" stroke="#000" stroke-width="0.12">developmental process</text>
<text x="292.9" y="227.66" font-size="5.3" text-anchor="start" fill="#000" stroke="#000" stroke-width="0.12">oogenesis</text>
<text x="292.9" y="233.48" font-size="5.3" text-anchor="start" fill="#000" stroke="#000" stroke-width="0.12">ovarian follicle cell development</text>
<text x="292.9" y="239.3" font-size="5.3" text-anchor="start" fill="#000" stroke="#000" stroke-width="0.12">eggshell formation</text>
<text x="292.9" y="245.12" font-size="5.3" text-anchor="start" fill="#000" stroke="#000" stroke-width="0.12">chorion−containing eggshell formation</text>
<text x="292.9" y="250.94" font-size="5.3" text-anchor="start" fill="#000" stroke="#000" stroke-width="0.12">female gamete generation</text>
<text x="292.9" y="256.76" font-size="5.3" text-anchor="start" fill="#000" stroke="#000" stroke-width="0.12">columnar/cuboidal epithelial cell development</text>
<text x="292.9" y="262.58" font-size="5.3" text-anchor="start" fill="#000" stroke="#000" stroke-width="0.12">columnar/cuboidal epithelial cell differentiation</text>
<text x="292.9" y="268.4" font-size="5.3" text-anchor="start" fill="#000" stroke="#000" stroke-width="0.12">epithelial cell development</text>
<text x="292.9" y="274.22" font-size="5.3" text-anchor="start" fill="#000" stroke="#000" stroke-width="0.12">regulation of signaling</text>
<text x="292.9" y="280.04" font-size="5.3" text-anchor="start" fill="#000" stroke="#000" stroke-width="0.12">epithelium development</text>
<text x="292.9" y="285.86" font-size="5.3" text-anchor="start" fill="#000" stroke="#000" stroke-width="0.12">regulation of cell communication</text>
<text x="292.9" y="291.68" font-size="5.3" text-anchor="start" fill="#000" stroke="#000" stroke-width="0.12">regulation of signal transduction</text>
<line x1="266.4" y1="175.4" x2="266.4" y2="293" stroke="#333" stroke-width="0.75"/>
<rect x="266.4" y="296.8" width="370.70000000000005" height="10.800000000000011" fill="#fff" stroke="#333" stroke-width="0.75"/>
<text x="451.75" y="304.1" font-size="5.8" font-weight="bold" text-anchor="middle" fill="#1a1a1a">cellular_component</text>
<rect x="282.6" y="311.35" width="262.8" height="10.7" fill="#dcd8ec"/>
<text x="292.9" y="318.5" font-size="5.3" text-anchor="start" fill="#000" stroke="#000" stroke-width="0.12">myosin complex</text>
<rect x="282.6" y="325.68" width="237.4" height="10.7" fill="#d7d1ea"/>
<text x="292.9" y="332.83" font-size="5.3" text-anchor="start" fill="#000" stroke="#000" stroke-width="0.12">chorion</text>
<rect x="282.6" y="340.01" width="205.1" height="10.7" fill="#a999cc"/>
<text x="292.9" y="347.16" font-size="5.3" text-anchor="start" fill="#000" stroke="#000" stroke-width="0.12">cytoskeleton</text>
<rect x="282.6" y="354.34" width="206.5" height="10.7" fill="#a999cc"/>
<text x="292.9" y="361.49" font-size="5.3" text-anchor="start" fill="#000" stroke="#000" stroke-width="0.12">cytoskeletal part</text>
<rect x="282.6" y="368.67" width="187.0" height="10.7" fill="#ac9ecf"/>
<text x="292.9" y="375.82" font-size="5.3" text-anchor="start" fill="#000" stroke="#000" stroke-width="0.12">extracellular region</text>
<rect x="282.6" y="383.0" width="279.9" height="10.7" fill="#8e77bb"/>
<text x="292.9" y="390.15" font-size="5.3" text-anchor="start" fill="#000" stroke="#000" stroke-width="0.12">keratin filament</text>
<rect x="282.6" y="397.33" width="248.0" height="10.7" fill="#53307f"/>
<text x="292.9" y="404.48" font-size="5.3" text-anchor="start" fill="#000" stroke="#000" stroke-width="0.12">intermediate filament cytoskeleton</text>
<rect x="282.6" y="411.66" width="248.0" height="10.7" fill="#53307f"/>
<text x="292.9" y="418.81" font-size="5.3" text-anchor="start" fill="#000" stroke="#000" stroke-width="0.12">intermediate filament</text>
<line x1="266.4" y1="307.6" x2="266.4" y2="427.2" stroke="#333" stroke-width="0.75"/>
<text x="645.4" y="342.6" font-size="4.8" text-anchor="start" fill="#1a1a1a" textLength="38.6" lengthAdjust="spacingAndGlyphs" stroke="#1a1a1a" stroke-width="0.1">−log10(p−Value)</text>
<rect x="645.4" y="346.7" width="8.1" height="49" fill="url(#dg)"/>
<text x="656.5" y="348.6" font-size="4.5" text-anchor="start" fill="#1a1a1a" stroke="#1a1a1a" stroke-width="0.1">12.5</text>
<line x1="645.4" y1="358.2" x2="646.8" y2="358.2" stroke="#fff" stroke-width="0.5"/>
<line x1="652.1" y1="358.2" x2="653.5" y2="358.2" stroke="#fff" stroke-width="0.5"/>
<text x="656.5" y="359.8" font-size="4.5" text-anchor="start" fill="#1a1a1a" stroke="#1a1a1a" stroke-width="0.1">10.0</text>
<line x1="645.4" y1="369.7" x2="646.8" y2="369.7" stroke="#fff" stroke-width="0.5"/>
<line x1="652.1" y1="369.7" x2="653.5" y2="369.7" stroke="#fff" stroke-width="0.5"/>
<text x="656.5" y="371.3" font-size="4.5" text-anchor="start" fill="#1a1a1a" stroke="#1a1a1a" stroke-width="0.1">7.5</text>
<line x1="645.4" y1="381.2" x2="646.8" y2="381.2" stroke="#fff" stroke-width="0.5"/>
<line x1="652.1" y1="381.2" x2="653.5" y2="381.2" stroke="#fff" stroke-width="0.5"/>
<text x="656.5" y="382.8" font-size="4.5" text-anchor="start" fill="#1a1a1a" stroke="#1a1a1a" stroke-width="0.1">5.0</text>
<text x="656.5" y="393.9" font-size="4.5" text-anchor="start" fill="#1a1a1a" stroke="#1a1a1a" stroke-width="0.1">2.5</text>
<rect x="266.4" y="429.4" width="370.70000000000005" height="11.0" fill="#fff" stroke="#333" stroke-width="0.75"/>
<text x="451.75" y="436.9" font-size="5.8" font-weight="bold" text-anchor="middle" fill="#1a1a1a">molecular_function</text>
<rect x="282.6" y="441.1" width="338.0" height="4.8" fill="#e9e7f4"/>
<rect x="282.6" y="446.95" width="309.4" height="4.8" fill="#e8e5f3"/>
<rect x="282.6" y="452.8" width="222.5" height="4.8" fill="#e4e0f1"/>
<rect x="282.6" y="458.65" width="243.2" height="4.8" fill="#e1dcef"/>
<rect x="282.6" y="464.5" width="243.2" height="4.8" fill="#e1dcef"/>
<rect x="282.6" y="470.35" width="199.6" height="4.8" fill="#e1dcef"/>
<rect x="282.6" y="476.2" width="235.4" height="4.8" fill="#dfdaee"/>
<rect x="282.6" y="482.05" width="185.3" height="4.8" fill="#dfdaee"/>
<rect x="282.6" y="487.9" width="233.2" height="4.8" fill="#dfdaee"/>
<rect x="282.6" y="493.75" width="242.5" height="4.8" fill="#dcd6ec"/>
<rect x="282.6" y="499.6" width="196.0" height="4.8" fill="#dbd5ec"/>
<rect x="282.6" y="505.45" width="247.5" height="4.8" fill="#d8d1ea"/>
<rect x="282.6" y="511.3" width="254.7" height="4.8" fill="#d6cfe9"/>
<rect x="282.6" y="517.15" width="254.7" height="4.8" fill="#d6cfe9"/>
<rect x="282.6" y="523.0" width="254.7" height="4.8" fill="#d6cfe9"/>
<rect x="282.6" y="528.85" width="254.7" height="4.8" fill="#d6cfe9"/>
<rect x="282.6" y="534.7" width="254.7" height="4.8" fill="#d6cfe9"/>
<rect x="282.6" y="540.55" width="196.0" height="4.8" fill="#c8bde0"/>
<rect x="282.6" y="546.4" width="173.5" height="4.8" fill="#c6bade"/>
<rect x="282.6" y="552.25" width="168.8" height="4.8" fill="#c4b8dd"/>
<text x="292.9" y="445.3" font-size="5.3" text-anchor="start" fill="#000" stroke="#000" stroke-width="0.12">neuropeptide receptor binding</text>
<text x="292.9" y="451.15" font-size="5.3" text-anchor="start" fill="#000" stroke="#000" stroke-width="0.12">riboflavin kinase activity</text>
<text x="292.9" y="457.0" font-size="5.3" text-anchor="start" fill="#000" stroke="#000" stroke-width="0.12">ubiquitin−like protein binding</text>
<text x="292.9" y="462.85" font-size="5.3" text-anchor="start" fill="#000" stroke="#000" stroke-width="0.12">Rho guanyl−nucleotide exchange factor activity</text>
<text x="292.9" y="468.7" font-size="5.3" text-anchor="start" fill="#000" stroke="#000" stroke-width="0.12">Ras guanyl−nucleotide exchange factor activity</text>
<text x="292.9" y="474.55" font-size="5.3" text-anchor="start" fill="#000" stroke="#000" stroke-width="0.12">serine−type endopeptidase activity</text>
<text x="292.9" y="480.4" font-size="5.3" text-anchor="start" fill="#000" stroke="#000" stroke-width="0.12">GTPase regulator activity</text>
<text x="292.9" y="486.25" font-size="5.3" text-anchor="start" fill="#000" stroke="#000" stroke-width="0.12">receptor binding</text>
<text x="292.9" y="492.1" font-size="5.3" text-anchor="start" fill="#000" stroke="#000" stroke-width="0.12">guanyl−nucleotide exchange factor activity</text>
<text x="292.9" y="497.95" font-size="5.3" text-anchor="start" fill="#000" stroke="#000" stroke-width="0.12">structural constituent of chorion</text>
<text x="292.9" y="503.8" font-size="5.3" text-anchor="start" fill="#000" stroke="#000" stroke-width="0.12">enzyme regulator activity</text>
<text x="292.9" y="509.65" font-size="5.3" text-anchor="start" fill="#000" stroke="#000" stroke-width="0.12">ubiquitin−like protein−specific protease activity</text>
<text x="292.9" y="515.5" font-size="5.3" text-anchor="start" fill="#000" stroke="#000" stroke-width="0.12">SUMO−specific isopeptidase activity</text>
<text x="292.9" y="521.35" font-size="5.3" text-anchor="start" fill="#000" stroke="#000" stroke-width="0.12">ubiquitin−like protein−specific isopeptidase activity</text>
<text x="292.9" y="527.2" font-size="5.3" text-anchor="start" fill="#000" stroke="#000" stroke-width="0.12">isopeptidase activity</text>
<text x="292.9" y="533.05" font-size="5.3" text-anchor="start" fill="#000" stroke="#000" stroke-width="0.12">SUMO binding</text>
<text x="292.9" y="538.9" font-size="5.3" text-anchor="start" fill="#000" stroke="#000" stroke-width="0.12">SUMO−specific protease activity</text>
<text x="292.9" y="544.75" font-size="5.3" text-anchor="start" fill="#000" stroke="#000" stroke-width="0.12">molecular function regulator</text>
<text x="292.9" y="550.6" font-size="5.3" text-anchor="start" fill="#000" stroke="#000" stroke-width="0.12">protein binding</text>
<text x="292.9" y="556.45" font-size="5.3" text-anchor="start" fill="#000" stroke="#000" stroke-width="0.12">binding</text>
<line x1="266.4" y1="440.4" x2="266.4" y2="557.8" stroke="#333" stroke-width="0.75"/>
<line x1="266.0" y1="558.05" x2="637.1" y2="558.05" stroke="#333" stroke-width="1.4"/>
<line x1="282.6" y1="558.7" x2="282.6" y2="560.0" stroke="#444" stroke-width="0.6"/>
<text x="282.6" y="564.4" font-size="4.4" text-anchor="middle" fill="#4d4d4d" stroke="#4d4d4d" stroke-width="0.1">0.00</text>
<line x1="367.0" y1="558.7" x2="367.0" y2="560.0" stroke="#444" stroke-width="0.6"/>
<text x="367.0" y="564.4" font-size="4.4" text-anchor="middle" fill="#4d4d4d" stroke="#4d4d4d" stroke-width="0.1">0.25</text>
<line x1="451.40000000000003" y1="558.7" x2="451.40000000000003" y2="560.0" stroke="#444" stroke-width="0.6"/>
<text x="451.4" y="564.4" font-size="4.4" text-anchor="middle" fill="#4d4d4d" stroke="#4d4d4d" stroke-width="0.1">0.50</text>
<line x1="535.8000000000001" y1="558.7" x2="535.8000000000001" y2="560.0" stroke="#444" stroke-width="0.6"/>
<text x="535.8" y="564.4" font-size="4.4" text-anchor="middle" fill="#4d4d4d" stroke="#4d4d4d" stroke-width="0.1">0.75</text>
<line x1="620.2" y1="558.7" x2="620.2" y2="560.0" stroke="#444" stroke-width="0.6"/>
<text x="620.2" y="564.4" font-size="4.4" text-anchor="middle" fill="#4d4d4d" stroke="#4d4d4d" stroke-width="0.1">1.00</text>
<text x="451.2" y="571.6" font-size="5.0" text-anchor="middle" fill="#1a1a1a" textLength="25" lengthAdjust="spacingAndGlyphs" stroke="#1a1a1a" stroke-width="0.1">RichFactor</text>
<rect x="16.7" y="392.9" width="106.12" height="155.70000000000005" fill="#e5e7f3"/>
<rect x="149.98000000000002" y="392.9" width="106.01999999999998" height="155.70000000000005" fill="#f5e2e4"/>
<line x1="122.82000000000001" y1="392.9" x2="122.82000000000001" y2="555.8" stroke="#555" stroke-width="0.8" stroke-dasharray="3.2,2.2"/>
<line x1="149.98000000000002" y1="392.9" x2="149.98000000000002" y2="555.8" stroke="#555" stroke-width="0.8" stroke-dasharray="3.2,2.2"/>
<line x1="16.7" y1="548.2" x2="256.0" y2="548.2" stroke="#c0504d" stroke-width="0.8" stroke-dasharray="3.2,2.2"/>
<circle cx="45.5" cy="545" r="1.35" fill="#4db5c5"/>
<circle cx="55" cy="546.3" r="1.35" fill="#4db5c5"/>
<circle cx="57.9" cy="546.7" r="1.35" fill="#4db5c5"/>
<circle cx="60.7" cy="546.7" r="1.35" fill="#4db5c5"/>
<circle cx="64.5" cy="546.9" r="1.35" fill="#4db5c5"/>
<circle cx="69.3" cy="547.2" r="1.35" fill="#4db5c5"/>
<circle cx="74.6" cy="547.4" r="1.35" fill="#4db5c5"/>
<circle cx="82.5" cy="547.8" r="1.35" fill="#4db5c5"/>
<circle cx="89.2" cy="515" r="1.35" fill="#4db5c5"/>
<circle cx="96.8" cy="514.4" r="1.35" fill="#4db5c5"/>
<circle cx="104.9" cy="517.1" r="1.35" fill="#4db5c5"/>
<circle cx="112.3" cy="481.8" r="1.35" fill="#4db5c5"/>
<circle cx="113.7" cy="490.9" r="1.35" fill="#4db5c5"/>
<circle cx="117.6" cy="525" r="1.35" fill="#4db5c5"/>
<circle cx="91.7" cy="535.5" r="1.35" fill="#4db5c5"/>
<circle cx="91.1" cy="538.3" r="1.35" fill="#4db5c5"/>
<circle cx="90.3" cy="544.6" r="1.35" fill="#4db5c5"/>
<circle cx="99.2" cy="546.5" r="1.35" fill="#4db5c5"/>
<circle cx="104.9" cy="545" r="1.35" fill="#4db5c5"/>
<circle cx="106.3" cy="540.2" r="1.35" fill="#4db5c5"/>
<circle cx="108.2" cy="543.1" r="1.35" fill="#4db5c5"/>
<circle cx="110" cy="544" r="1.35" fill="#4db5c5"/>
<circle cx="112" cy="543" r="1.35" fill="#4db5c5"/>
<circle cx="113.9" cy="543" r="1.35" fill="#4db5c5"/>
<circle cx="116.1" cy="542.1" r="1.35" fill="#4db5c5"/>
<circle cx="119.5" cy="533.6" r="1.35" fill="#4db5c5"/>
<circle cx="120.5" cy="535.5" r="1.35" fill="#4db5c5"/>
<circle cx="120.5" cy="539.3" r="1.35" fill="#4db5c5"/>
<circle cx="110.5" cy="547" r="1.35" fill="#4db5c5"/>
<circle cx="112.5" cy="546.5" r="1.35" fill="#4db5c5"/>
<circle cx="114.5" cy="547.5" r="1.35" fill="#4db5c5"/>
<circle cx="116.5" cy="546.5" r="1.35" fill="#4db5c5"/>
<circle cx="118.5" cy="547.2" r="1.35" fill="#4db5c5"/>
<circle cx="120.5" cy="547.5" r="1.35" fill="#4db5c5"/>
<circle cx="121.5" cy="546" r="1.35" fill="#4db5c5"/>
<circle cx="122.4" cy="470.3" r="1.35" fill="#4db5c5"/>
<circle cx="109.1" cy="400.3" r="1.35" fill="#4db5c5"/>
<circle cx="102.5" cy="400.3" r="1.35" fill="#4db5c5"/>
<circle cx="112.9" cy="400.3" r="1.35" fill="#4db5c5"/>
<circle cx="116.1" cy="400.3" r="1.35" fill="#4db5c5"/>
<circle cx="95.8" cy="400.3" r="1.35" fill="#4db5c5"/>
<circle cx="111" cy="545.5" r="1.35" fill="#4db5c5"/>
<circle cx="115" cy="545" r="1.35" fill="#4db5c5"/>
<circle cx="119" cy="544.5" r="1.35" fill="#4db5c5"/>
<circle cx="121.8" cy="544.8" r="1.35" fill="#4db5c5"/>
<circle cx="150.1" cy="483.7" r="1.35" fill="#d9513c"/>
<circle cx="154.8" cy="491.5" r="1.35" fill="#d9513c"/>
<circle cx="190.6" cy="497.2" r="1.35" fill="#d9513c"/>
<circle cx="162.9" cy="506.4" r="1.35" fill="#d9513c"/>
<circle cx="159.3" cy="532.6" r="1.35" fill="#d9513c"/>
<circle cx="169.5" cy="533" r="1.35" fill="#d9513c"/>
<circle cx="175.6" cy="533.6" r="1.35" fill="#d9513c"/>
<circle cx="209.4" cy="535.8" r="1.35" fill="#d9513c"/>
<circle cx="150.7" cy="537.5" r="1.35" fill="#d9513c"/>
<circle cx="172.6" cy="539.5" r="1.35" fill="#d9513c"/>
<circle cx="179.3" cy="544" r="1.35" fill="#d9513c"/>
<circle cx="179.3" cy="546" r="1.35" fill="#d9513c"/>
<circle cx="231" cy="543.2" r="1.35" fill="#d9513c"/>
<circle cx="235.1" cy="542.6" r="1.35" fill="#d9513c"/>
<circle cx="219.6" cy="545.5" r="1.35" fill="#d9513c"/>
<circle cx="209.4" cy="546.7" r="1.35" fill="#d9513c"/>
<circle cx="201.4" cy="546.9" r="1.35" fill="#d9513c"/>
<circle cx="187.9" cy="547.3" r="1.35" fill="#d9513c"/>
<circle cx="151" cy="542" r="1.35" fill="#d9513c"/>
<circle cx="152" cy="545" r="1.35" fill="#d9513c"/>
<circle cx="153.5" cy="547" r="1.35" fill="#d9513c"/>
<circle cx="155" cy="544" r="1.35" fill="#d9513c"/>
<circle cx="156.5" cy="546.5" r="1.35" fill="#d9513c"/>
<circle cx="158" cy="543.5" r="1.35" fill="#d9513c"/>
<circle cx="159.5" cy="547" r="1.35" fill="#d9513c"/>
<circle cx="161" cy="545" r="1.35" fill="#d9513c"/>
<circle cx="162.5" cy="542.5" r="1.35" fill="#d9513c"/>
<circle cx="164" cy="546.5" r="1.35" fill="#d9513c"/>
<circle cx="165.5" cy="544.5" r="1.35" fill="#d9513c"/>
<circle cx="167" cy="547" r="1.35" fill="#d9513c"/>
<circle cx="168.5" cy="543" r="1.35" fill="#d9513c"/>
<circle cx="170" cy="545.5" r="1.35" fill="#d9513c"/>
<circle cx="171.5" cy="547.2" r="1.35" fill="#d9513c"/>
<circle cx="173" cy="542" r="1.35" fill="#d9513c"/>
<circle cx="174.5" cy="546" r="1.35" fill="#d9513c"/>
<circle cx="176" cy="544.5" r="1.35" fill="#d9513c"/>
<circle cx="160" cy="541" r="1.35" fill="#d9513c"/>
<circle cx="163" cy="540.5" r="1.35" fill="#d9513c"/>
<circle cx="166" cy="541.5" r="1.35" fill="#d9513c"/>
<circle cx="157" cy="539.5" r="1.35" fill="#d9513c"/>
<circle cx="152.7" cy="400.4" r="1.35" fill="#d9513c"/>
<circle cx="157.4" cy="400.4" r="1.35" fill="#d9513c"/>
<circle cx="167.6" cy="400.4" r="1.35" fill="#d9513c"/>
<circle cx="209" cy="400" r="1.35" fill="#d9513c"/>
<line x1="16.7" y1="392.9" x2="16.7" y2="556.4" stroke="#000" stroke-width="1.1"/>
<line x1="16.2" y1="555.8" x2="256.0" y2="555.8" stroke="#000" stroke-width="1.1"/>
<line x1="14.899999999999999" y1="548.2" x2="16.7" y2="548.2" stroke="#000" stroke-width="0.6"/>
<text x="14.5" y="549.8" font-size="4.6" text-anchor="end" fill="#222" stroke="#222" stroke-width="0.1">0</text>
<line x1="14.899999999999999" y1="518.5500000000001" x2="16.7" y2="518.5500000000001" stroke="#000" stroke-width="0.6"/>
<text x="14.5" y="520.2" font-size="4.6" text-anchor="end" fill="#222" stroke="#222" stroke-width="0.1">100</text>
<line x1="14.899999999999999" y1="488.90000000000003" x2="16.7" y2="488.90000000000003" stroke="#000" stroke-width="0.6"/>
<text x="14.5" y="490.5" font-size="4.6" text-anchor="end" fill="#222" stroke="#222" stroke-width="0.1">200</text>
<line x1="14.899999999999999" y1="459.25000000000006" x2="16.7" y2="459.25000000000006" stroke="#000" stroke-width="0.6"/>
<text x="14.5" y="460.9" font-size="4.6" text-anchor="end" fill="#222" stroke="#222" stroke-width="0.1">300</text>
<line x1="14.899999999999999" y1="429.6" x2="16.7" y2="429.6" stroke="#000" stroke-width="0.6"/>
<text x="14.5" y="431.2" font-size="4.6" text-anchor="end" fill="#222" stroke="#222" stroke-width="0.1">400</text>
<line x1="14.899999999999999" y1="399.95000000000005" x2="16.7" y2="399.95000000000005" stroke="#000" stroke-width="0.6"/>
<text x="14.5" y="401.6" font-size="4.6" text-anchor="end" fill="#222" stroke="#222" stroke-width="0.1">500</text>
<line x1="27.760000000000005" y1="555.8" x2="27.760000000000005" y2="556.9" stroke="#000" stroke-width="0.5"/>
<text x="27.8" y="560.6" font-size="4.1" text-anchor="middle" fill="#222" stroke="#222" stroke-width="0.1">-8</text>
<line x1="54.92" y1="555.8" x2="54.92" y2="556.9" stroke="#000" stroke-width="0.5"/>
<text x="54.9" y="560.6" font-size="4.1" text-anchor="middle" fill="#222" stroke="#222" stroke-width="0.1">-6</text>
<line x1="82.08000000000001" y1="555.8" x2="82.08000000000001" y2="556.9" stroke="#000" stroke-width="0.5"/>
<text x="82.1" y="560.6" font-size="4.1" text-anchor="middle" fill="#222" stroke="#222" stroke-width="0.1">-4</text>
<line x1="109.24000000000001" y1="555.8" x2="109.24000000000001" y2="556.9" stroke="#000" stroke-width="0.5"/>
<text x="109.2" y="560.6" font-size="4.1" text-anchor="middle" fill="#222" stroke="#222" stroke-width="0.1">-2</text>
<line x1="136.4" y1="555.8" x2="136.4" y2="556.9" stroke="#000" stroke-width="0.5"/>
<text x="136.4" y="560.6" font-size="4.1" text-anchor="middle" fill="#222" stroke="#222" stroke-width="0.1">0</text>
<line x1="163.56" y1="555.8" x2="163.56" y2="556.9" stroke="#000" stroke-width="0.5"/>
<text x="163.6" y="560.6" font-size="4.1" text-anchor="middle" fill="#222" stroke="#222" stroke-width="0.1">2</text>
<line x1="190.72" y1="555.8" x2="190.72" y2="556.9" stroke="#000" stroke-width="0.5"/>
<text x="190.7" y="560.6" font-size="4.1" text-anchor="middle" fill="#222" stroke="#222" stroke-width="0.1">4</text>
<line x1="217.88" y1="555.8" x2="217.88" y2="556.9" stroke="#000" stroke-width="0.5"/>
<text x="217.9" y="560.6" font-size="4.1" text-anchor="middle" fill="#222" stroke="#222" stroke-width="0.1">6</text>
<line x1="245.04000000000002" y1="555.8" x2="245.04000000000002" y2="556.9" stroke="#000" stroke-width="0.5"/>
<text x="245.0" y="560.6" font-size="4.1" text-anchor="middle" fill="#222" stroke="#222" stroke-width="0.1">8</text>
<text x="136.0" y="566.3" font-size="5.4" font-weight="bold" text-anchor="middle" fill="#111" textLength="96" lengthAdjust="spacingAndGlyphs">Chr-ASC-Exos vs ASC-Exos (log2FC)</text>
<text transform="translate(5.6,509) rotate(-90)" font-size="5.2" font-weight="bold" text-anchor="start" fill="#1a1a1a" textLength="69.5" lengthAdjust="spacingAndGlyphs">Significance(-log10 adj.p-val)</text>
<text x="135.7" y="390.4" font-size="6.2" font-weight="bold" text-anchor="middle" fill="#000" textLength="116" lengthAdjust="spacingAndGlyphs">Differential miRNA Expression Analysis</text>
<text x="95.4" y="417.0" font-size="5.3" text-anchor="middle" fill="#5bbccb" textLength="23.5" lengthAdjust="spacingAndGlyphs" stroke="#5bbccb" stroke-width="0.1">Down: 74</text>
<text x="177" y="417.2" font-size="5.3" text-anchor="middle" fill="#e0584a" textLength="16.5" lengthAdjust="spacingAndGlyphs" stroke="#e0584a" stroke-width="0.1">Up: 83</text>
<line x1="102.5" y1="400.3" x2="100" y2="399.5" stroke="#444" stroke-width="0.4"/>
<line x1="116.1" y1="400.3" x2="118" y2="403.7" stroke="#444" stroke-width="0.4"/>
<line x1="95.8" y1="400.3" x2="92" y2="404" stroke="#444" stroke-width="0.4"/>
<line x1="209" y1="400" x2="214" y2="403.1" stroke="#444" stroke-width="0.4"/>
<rect x="89.2" y="395.4" width="14.2" height="4.2" rx="0.6" fill="#fff" stroke="#222" stroke-width="0.5"/>
<text x="96.3" y="398.7" font-size="3.3" text-anchor="middle" fill="#222" textLength="12.0" lengthAdjust="spacingAndGlyphs" stroke="#222" stroke-width="0.1">hsa-miR-7</text>
<rect x="71.7" y="404.0" width="28.9" height="4.4" rx="0.6" fill="#fff" stroke="#222" stroke-width="0.5"/>
<text x="86.2" y="407.4" font-size="3.3" text-anchor="middle" fill="#222" textLength="26.7" lengthAdjust="spacingAndGlyphs" stroke="#222" stroke-width="0.1">hsa-miR-30a-5p</text>
<rect x="105.9" y="403.7" width="18.4" height="4.4" rx="0.6" fill="#fff" stroke="#222" stroke-width="0.5"/>
<text x="115.1" y="407.1" font-size="3.3" text-anchor="middle" fill="#222" textLength="16.2" lengthAdjust="spacingAndGlyphs" stroke="#222" stroke-width="0.1">hsa-let-7i</text>
<rect x="131.2" y="395.1" width="23.2" height="4.4" rx="0.6" fill="#fff" stroke="#222" stroke-width="0.5"/>
<text x="142.8" y="398.5" font-size="3.3" text-anchor="middle" fill="#222" textLength="21.0" lengthAdjust="spacingAndGlyphs" stroke="#222" stroke-width="0.1">hsa-miR-140</text>
<rect x="170.5" y="395.1" width="29.3" height="4.4" rx="0.6" fill="#fff" stroke="#222" stroke-width="0.5"/>
<text x="185.2" y="398.5" font-size="3.3" text-anchor="middle" fill="#222" textLength="27.1" lengthAdjust="spacingAndGlyphs" stroke="#222" stroke-width="0.1">hsa-miR-27a-3p</text>
<rect x="203.8" y="403.2" width="26.0" height="4.4" rx="0.6" fill="#fff" stroke="#222" stroke-width="0.5"/>
<text x="216.8" y="406.6" font-size="3.3" text-anchor="middle" fill="#222" textLength="23.8" lengthAdjust="spacingAndGlyphs" stroke="#222" stroke-width="0.1">hsa-miR-1246</text>
<rect x="93.3" y="581.5" width="1.6" height="9.8" fill="#000"/>
<line x1="87.6" y1="586.4" x2="93.3" y2="586.4" stroke="#000" stroke-width="1.2"/>
<text x="87.0" y="589.3" font-size="8.7" font-weight="bold" text-anchor="end" fill="#111">miR-9-5p</text>
<rect x="93.3" y="597.5" width="4.8" height="9.8" fill="#f6dcdf" stroke="#333" stroke-width="0.9"/>
<line x1="87.6" y1="602.35" x2="93.3" y2="602.35" stroke="#000" stroke-width="1.2"/>
<text x="87.0" y="605.2" font-size="8.7" font-weight="bold" text-anchor="end" fill="#111">miR-2284x</text>
<rect x="93.3" y="613.4" width="8.1" height="9.8" fill="#f6ecce" stroke="#333" stroke-width="0.9"/>
<line x1="87.6" y1="618.3" x2="93.3" y2="618.3" stroke="#000" stroke-width="1.2"/>
<text x="87.0" y="621.2" font-size="8.7" font-weight="bold" text-anchor="end" fill="#111">miR-152</text>
<rect x="93.3" y="629.4" width="8.1" height="9.8" fill="#f6f8e6" stroke="#333" stroke-width="0.9"/>
<line x1="87.6" y1="634.25" x2="93.3" y2="634.25" stroke="#000" stroke-width="1.2"/>
<text x="87.0" y="637.1" font-size="8.7" font-weight="bold" text-anchor="end" fill="#111">miR-148c</text>
<rect x="93.3" y="645.3" width="3.0" height="9.8" fill="#d3ece8" stroke="#333" stroke-width="0.9"/>
<line x1="87.6" y1="650.1999999999999" x2="93.3" y2="650.1999999999999" stroke="#000" stroke-width="1.2"/>
<text x="87.0" y="653.1" font-size="8.7" font-weight="bold" text-anchor="end" fill="#111">miR-1246</text>
<rect x="93.3" y="661.2" width="17.3" height="9.8" fill="#d6eedf" stroke="#333" stroke-width="0.9"/>
<line x1="87.6" y1="666.15" x2="93.3" y2="666.15" stroke="#000" stroke-width="1.2"/>
<text x="87.0" y="669.0" font-size="8.7" font-weight="bold" text-anchor="end" fill="#111">miR-181a</text>
<rect x="93.3" y="677.2" width="26.0" height="9.8" fill="#d2ecf3" stroke="#333" stroke-width="0.9"/>
<line x1="87.6" y1="682.0999999999999" x2="93.3" y2="682.0999999999999" stroke="#000" stroke-width="1.2"/>
<text x="87.0" y="685.0" font-size="8.7" font-weight="bold" text-anchor="end" fill="#111">miR-23a</text>
<rect x="93.3" y="693.1" width="32.9" height="9.8" fill="#a6c8e2" stroke="#333" stroke-width="0.9"/>
<line x1="87.6" y1="698.05" x2="93.3" y2="698.05" stroke="#000" stroke-width="1.2"/>
<text x="87.0" y="700.9" font-size="8.7" font-weight="bold" text-anchor="end" fill="#111">miR-221</text>
<rect x="93.3" y="709.1" width="56.6" height="9.8" fill="#9b99cc" stroke="#333" stroke-width="0.9"/>
<line x1="87.6" y1="714.0" x2="93.3" y2="714.0" stroke="#000" stroke-width="1.2"/>
<text x="87.0" y="716.9" font-size="8.7" font-weight="bold" text-anchor="end" fill="#111">miR-27a-3p</text>
<rect x="93.3" y="725.0" width="140.9" height="9.8" fill="#6c52a1" stroke="#333" stroke-width="0.9"/>
<line x1="87.6" y1="729.9499999999999" x2="93.3" y2="729.9499999999999" stroke="#000" stroke-width="1.2"/>
<text x="87.0" y="732.8" font-size="8.7" font-weight="bold" text-anchor="end" fill="#111">miR-140</text>
<line x1="93.3" y1="575.5" x2="93.3" y2="740.6" stroke="#000" stroke-width="1.4"/>
<line x1="92.6" y1="740.0" x2="270.5" y2="740.0" stroke="#000" stroke-width="1.4"/>
<line x1="93.3" y1="740" x2="93.3" y2="743.4" stroke="#000" stroke-width="1.2"/>
<text x="93.3" y="755.2" font-size="8.6" font-weight="bold" text-anchor="middle" fill="#111">0</text>
<line x1="137.6" y1="740" x2="137.6" y2="743.4" stroke="#000" stroke-width="1.2"/>
<text x="137.6" y="755.2" font-size="8.6" font-weight="bold" text-anchor="middle" fill="#111">20000</text>
<line x1="181.89999999999998" y1="740" x2="181.89999999999998" y2="743.4" stroke="#000" stroke-width="1.2"/>
<text x="181.9" y="755.2" font-size="8.6" font-weight="bold" text-anchor="middle" fill="#111">40000</text>
<line x1="226.2" y1="740" x2="226.2" y2="743.4" stroke="#000" stroke-width="1.2"/>
<text x="226.2" y="755.2" font-size="8.6" font-weight="bold" text-anchor="middle" fill="#111">60000</text>
<line x1="270.5" y1="740" x2="270.5" y2="743.4" stroke="#000" stroke-width="1.2"/>
<text x="270.5" y="755.2" font-size="8.6" font-weight="bold" text-anchor="middle" fill="#111">80000</text>
<text x="181.3" y="769.3" font-size="9.8" font-weight="bold" text-anchor="middle" fill="#111" textLength="50.6" lengthAdjust="spacingAndGlyphs">Readcount</text>
<text x="101.6" y="587.7" font-size="7.8" font-weight="bold" text-anchor="start" fill="#111" textLength="171.7" lengthAdjust="spacingAndGlyphs">Top 10 upregulated miRNAs in Chr-RMC-Exos</text>
<line x1="270.1" y1="608" x2="270.1" y2="732" stroke="#000" stroke-width="1.2"/>
<polygon points="270.1,600.9 265.9,610.6 274.4,610.6" fill="#000"/>
<text transform="translate(278.6,714.3) rotate(-90)" font-size="7.6" font-weight="bold" text-anchor="start" fill="#111" textLength="88.2" lengthAdjust="spacingAndGlyphs">Ranked by significance</text>
<text transform="translate(289.0,726.9) rotate(-90)" font-size="7.6" font-weight="bold" text-anchor="start" fill="#111" textLength="110.4" lengthAdjust="spacingAndGlyphs">(-log10 adj.p-val, top to bottom</text>
<line x1="366.3" y1="617.8" x2="366.3" y2="705.5" stroke="#000" stroke-width="1.3"/>
<line x1="366.3" y1="710.7" x2="366.3" y2="741" stroke="#000" stroke-width="1.3"/>
<line x1="363.6" y1="705.5" x2="369" y2="705.5" stroke="#000" stroke-width="1.1"/>
<line x1="363.6" y1="710.7" x2="369" y2="710.7" stroke="#000" stroke-width="1.1"/>
<line x1="361.8" y1="681.5" x2="366.3" y2="681.5" stroke="#000" stroke-width="1.1"/>
<text x="361.0" y="683.8" font-size="6.6" font-weight="bold" text-anchor="end" fill="#111" textLength="11.1" lengthAdjust="spacingAndGlyphs">100</text>
<line x1="361.8" y1="649.9" x2="366.3" y2="649.9" stroke="#000" stroke-width="1.1"/>
<text x="361.0" y="652.2" font-size="6.6" font-weight="bold" text-anchor="end" fill="#111" textLength="11.1" lengthAdjust="spacingAndGlyphs">120</text>
<line x1="361.8" y1="618.3" x2="366.3" y2="618.3" stroke="#000" stroke-width="1.1"/>
<text x="361.0" y="620.6" font-size="6.6" font-weight="bold" text-anchor="end" fill="#111" textLength="11.1" lengthAdjust="spacingAndGlyphs">140</text>
<line x1="361.8" y1="740.4" x2="366.3" y2="740.4" stroke="#000" stroke-width="1.1"/>
<text x="361.0" y="742.7" font-size="6.6" font-weight="bold" text-anchor="end" fill="#111" textLength="3.7" lengthAdjust="spacingAndGlyphs">0</text>
<line x1="361.8" y1="726.12" x2="366.3" y2="726.12" stroke="#000" stroke-width="1.1"/>
<text x="361.0" y="728.4" font-size="6.6" font-weight="bold" text-anchor="end" fill="#111" textLength="7.4" lengthAdjust="spacingAndGlyphs">40</text>
<line x1="361.8" y1="711.84" x2="366.3" y2="711.84" stroke="#000" stroke-width="1.1"/>
<text x="361.0" y="714.1" font-size="6.6" font-weight="bold" text-anchor="end" fill="#111" textLength="7.4" lengthAdjust="spacingAndGlyphs">80</text>
<line x1="365.7" y1="740.4" x2="500" y2="740.4" stroke="#000" stroke-width="1.4"/>
<line x1="383.2" y1="689.2" x2="383.2" y2="691.6" stroke="#000" stroke-width="1"/>
<line x1="379.9" y1="689.2" x2="386.5" y2="689.2" stroke="#000" stroke-width="1"/>
<rect x="374.75" y="691.6" width="16.9" height="48.8" fill="#f6f8e6" stroke="#222" stroke-width="0.9"/>
<line x1="383.2" y1="740.4" x2="383.2" y2="744.6" stroke="#000" stroke-width="1.2"/>
<path d="M380.85,749.10H385.55M383.20,747.10V751.10" stroke="#000" stroke-width="1.25" fill="none"/>
<line x1="408.85" y1="651.9" x2="408.85" y2="653.6" stroke="#000" stroke-width="1"/>
<line x1="405.55" y1="651.9" x2="412.15000000000003" y2="651.9" stroke="#000" stroke-width="1"/>
<rect x="400.4" y="653.6" width="16.9" height="86.8" fill="#d6ecdf" stroke="#222" stroke-width="0.9"/>
<line x1="408.85" y1="740.4" x2="408.85" y2="744.6" stroke="#000" stroke-width="1.2"/>
<path d="M406.50,749.10H411.20M408.85,747.10V751.10" stroke="#000" stroke-width="1.25" fill="none"/>
<line x1="434.3" y1="639.9" x2="434.3" y2="640.9" stroke="#000" stroke-width="1"/>
<line x1="431.0" y1="639.9" x2="437.6" y2="639.9" stroke="#000" stroke-width="1"/>
<rect x="425.85" y="640.9" width="16.9" height="99.5" fill="#d0eaf1" stroke="#222" stroke-width="0.9"/>
<line x1="434.3" y1="740.4" x2="434.3" y2="744.6" stroke="#000" stroke-width="1.2"/>
<path d="M431.95,749.10H436.65M434.30,747.10V751.10" stroke="#000" stroke-width="1.25" fill="none"/>
<line x1="459.95" y1="650.9" x2="459.95" y2="653.0" stroke="#000" stroke-width="1"/>
<line x1="456.65" y1="650.9" x2="463.25" y2="650.9" stroke="#000" stroke-width="1"/>
<rect x="451.5" y="653.0" width="16.9" height="87.4" fill="#a5c6e1" stroke="#222" stroke-width="0.9"/>
<line x1="459.95" y1="740.4" x2="459.95" y2="744.6" stroke="#000" stroke-width="1.2"/>
<path d="M457.60,749.10H462.30M459.95,747.10V751.10" stroke="#000" stroke-width="1.25" fill="none"/>
<line x1="485.5" y1="671.6" x2="485.5" y2="673.0" stroke="#000" stroke-width="1"/>
<line x1="482.2" y1="671.6" x2="488.8" y2="671.6" stroke="#000" stroke-width="1"/>
<rect x="477.05" y="673.0" width="16.9" height="67.4" fill="#9a98cb" stroke="#222" stroke-width="0.9"/>
<line x1="485.5" y1="740.4" x2="485.5" y2="744.6" stroke="#000" stroke-width="1.2"/>
<path d="M483.15,749.10H487.85M485.50,747.10V751.10" stroke="#000" stroke-width="1.25" fill="none"/>
<rect x="372" y="705.3" width="125" height="5.6" fill="#fff"/>
<polyline points="382.5,687.3 382.5,644.0 408.85,644.0 408.85,649.3" fill="none" stroke="#000" stroke-width="1.3"/>
<polyline points="382.5,636.2 382.5,626.6 434.3,626.6 434.3,638.2" fill="none" stroke="#000" stroke-width="1.3"/>
<polyline points="382.5,621.9 382.5,608.2 459.95,608.2 459.95,648.8" fill="none" stroke="#000" stroke-width="1.3"/>
<polyline points="382.5,603.5 382.5,589.2 485.5,589.2 485.5,669.3" fill="none" stroke="#000" stroke-width="1.3"/>
<path d="M388.35,635.25L388.35,639.35M386.57,636.28L390.13,638.33M390.13,636.28L386.57,638.33" stroke="#000" stroke-width="0.9" fill="none"/>
<circle cx="388.35" cy="637.30" r="0.92" fill="#000"/>
<path d="M393.78,635.25L393.78,639.35M392.01,636.28L395.56,638.33M395.56,636.28L392.01,638.33" stroke="#000" stroke-width="0.9" fill="none"/>
<circle cx="393.78" cy="637.30" r="0.92" fill="#000"/>
<path d="M399.22,635.25L399.22,639.35M397.44,636.28L400.99,638.33M400.99,636.28L397.44,638.33" stroke="#000" stroke-width="0.9" fill="none"/>
<circle cx="399.22" cy="637.30" r="0.92" fill="#000"/>
<path d="M404.65,635.25L404.65,639.35M402.87,636.28L406.43,638.33M406.43,636.28L402.87,638.33" stroke="#000" stroke-width="0.9" fill="none"/>
<circle cx="404.65" cy="637.30" r="0.92" fill="#000"/>
<path d="M401.15,616.85L401.15,620.95M399.37,617.88L402.93,619.93M402.93,617.88L399.37,619.93" stroke="#000" stroke-width="0.9" fill="none"/>
<circle cx="401.15" cy="618.90" r="0.92" fill="#000"/>
<path d="M406.62,616.85L406.62,620.95M404.84,617.88L408.39,619.93M408.39,617.88L404.84,619.93" stroke="#000" stroke-width="0.9" fill="none"/>
<circle cx="406.62" cy="618.90" r="0.92" fill="#000"/>
<path d="M412.08,616.85L412.08,620.95M410.31,617.88L413.86,619.93M413.86,617.88L410.31,619.93" stroke="#000" stroke-width="0.9" fill="none"/>
<circle cx="412.08" cy="618.90" r="0.92" fill="#000"/>
<path d="M417.55,616.85L417.55,620.95M415.77,617.88L419.33,619.93M419.33,617.88L415.77,619.93" stroke="#000" stroke-width="0.9" fill="none"/>
<circle cx="417.55" cy="618.90" r="0.92" fill="#000"/>
<path d="M413.45,599.15L413.45,603.25M411.67,600.18L415.23,602.23M415.23,600.18L411.67,602.23" stroke="#000" stroke-width="0.9" fill="none"/>
<circle cx="413.45" cy="601.20" r="0.92" fill="#000"/>
<path d="M419.05,599.15L419.05,603.25M417.27,600.18L420.83,602.23M420.83,600.18L417.27,602.23" stroke="#000" stroke-width="0.9" fill="none"/>
<circle cx="419.05" cy="601.20" r="0.92" fill="#000"/>
<path d="M424.65,599.15L424.65,603.25M422.87,600.18L426.43,602.23M426.43,600.18L422.87,602.23" stroke="#000" stroke-width="0.9" fill="none"/>
<circle cx="424.65" cy="601.20" r="0.92" fill="#000"/>
<path d="M430.25,599.15L430.25,603.25M428.47,600.18L432.03,602.23M432.03,600.18L428.47,602.23" stroke="#000" stroke-width="0.9" fill="none"/>
<circle cx="430.25" cy="601.20" r="0.92" fill="#000"/>
<path d="M426.75,581.05L426.75,585.15M424.97,582.08L428.53,584.12M428.53,582.08L424.97,584.12" stroke="#000" stroke-width="0.9" fill="none"/>
<circle cx="426.75" cy="583.10" r="0.92" fill="#000"/>
<path d="M431.98,581.05L431.98,585.15M430.21,582.08L433.76,584.12M433.76,582.08L430.21,584.12" stroke="#000" stroke-width="0.9" fill="none"/>
<circle cx="431.98" cy="583.10" r="0.92" fill="#000"/>
<path d="M437.22,581.05L437.22,585.15M435.44,582.08L438.99,584.12M438.99,582.08L435.44,584.12" stroke="#000" stroke-width="0.9" fill="none"/>
<circle cx="437.22" cy="583.10" r="0.92" fill="#000"/>
<path d="M442.45,581.05L442.45,585.15M440.67,582.08L444.23,584.12M444.23,582.08L440.67,584.12" stroke="#000" stroke-width="0.9" fill="none"/>
<circle cx="442.45" cy="583.10" r="0.92" fill="#000"/>
<text x="348.8" y="750.8" font-size="7.8" font-weight="bold" text-anchor="start" fill="#111" textLength="19.9" lengthAdjust="spacingAndGlyphs">IL-1β</text>
<text transform="translate(345.6,706.2) rotate(-90)" font-size="7.3" font-weight="bold" text-anchor="start" fill="#111" textLength="54.5" lengthAdjust="spacingAndGlyphs">Cell Viability(%)</text>
<rect x="510.8" y="607.5" width="10.6" height="4.8" fill="#f6f8e6" stroke="#333" stroke-width="0.9"/>
<text x="527.2" y="612.7" font-size="8.0" text-anchor="start" fill="#222" stroke="#222" stroke-width="0.1">PBS</text>
<rect x="510.8" y="619.6" width="10.6" height="4.8" fill="#d6ecdf" stroke="#333" stroke-width="0.9"/>
<text x="527.2" y="624.8" font-size="8.0" text-anchor="start" fill="#222" stroke="#222" stroke-width="0.1">ASC-Exos</text>
<rect x="510.8" y="631.7" width="10.6" height="4.8" fill="#d0eaf1" stroke="#333" stroke-width="0.9"/>
<text x="527.2" y="636.9" font-size="8.0" text-anchor="start" fill="#222" stroke="#222" stroke-width="0.1">miR-140-Exos</text>
<rect x="510.8" y="643.9" width="10.6" height="4.8" fill="#a5c6e1" stroke="#333" stroke-width="0.9"/>
<text x="527.2" y="649.1" font-size="8.0" text-anchor="start" fill="#222" stroke="#222" stroke-width="0.1">NC-miR-140-Exos</text>
<rect x="510.8" y="656.0" width="10.6" height="4.8" fill="#9a98cb" stroke="#333" stroke-width="0.9"/>
<text x="527.2" y="661.2" font-size="8.0" text-anchor="start" fill="#222" stroke="#222" stroke-width="0.1">anti-miR-140-Exos</text>
<defs><filter id="gn" x="0" y="0" width="100%" height="100%" color-interpolation-filters="sRGB"><feTurbulence type="fractalNoise" baseFrequency="0.75" numOctaves="3" seed="4"/><feColorMatrix type="matrix" values="1.8 0 0 0 -0.4  1.8 0 0 0 -0.4  1.8 0 0 0 -0.4  0 0 0 0 1"/></filter><filter id="bl3" x="-20%" y="-50%" width="140%" height="200%"><feGaussianBlur stdDeviation="4"/></filter><filter id="bl6" x="-20%" y="-50%" width="140%" height="200%"><feGaussianBlur stdDeviation="7"/></filter><clipPath id="c11"><rect x="192.2" y="877.2" width="103.4" height="65"/></clipPath><clipPath id="c12"><rect x="295.6" y="877.2" width="103.4" height="65"/></clipPath><clipPath id="c14"><rect x="501.6" y="877.2" width="103.3" height="65"/></clipPath></defs>
<rect x="46.1" y="779.3" width="557.7" height="27.2" fill="#9697c5" stroke="#1a1a1a" stroke-width="1.3"/>
<rect x="46.3" y="812.4" width="36.2" height="130.1" fill="#9697c5" stroke="#1a1a1a" stroke-width="1.3"/>
<text x="134.6" y="789.1" font-size="8.5" font-weight="bold" text-anchor="middle" fill="#111">PBS</text>
<text x="134.6" y="803.0" font-size="8.5" font-weight="bold" text-anchor="middle" fill="#111">-</text>
<text x="244.6" y="789.1" font-size="8.5" font-weight="bold" text-anchor="middle" fill="#111">PBS</text>
<text x="244.6" y="803.0" font-size="8.5" font-weight="bold" text-anchor="middle" fill="#111">+</text>
<text x="346.6" y="789.1" font-size="8.5" font-weight="bold" text-anchor="middle" fill="#111">ASC-Exos</text>
<text x="346.6" y="803.0" font-size="8.5" font-weight="bold" text-anchor="middle" fill="#111">+</text>
<text x="447.7" y="789.1" font-size="8.5" font-weight="bold" text-anchor="middle" fill="#111">miR-140-Exos</text>
<text x="447.7" y="803.0" font-size="8.5" font-weight="bold" text-anchor="middle" fill="#111">+</text>
<text x="551.4" y="789.1" font-size="8.5" font-weight="bold" text-anchor="middle" fill="#111">anti-miR-140-Exos</text>
<text x="551.4" y="803.0" font-size="8.5" font-weight="bold" text-anchor="middle" fill="#111">+</text>
<text x="54.9" y="802.0" font-size="8.3" font-weight="bold" text-anchor="start" fill="#111" textLength="21.2" lengthAdjust="spacingAndGlyphs">IL-1β</text>
<text x="64.6" y="845.4" font-size="8.0" font-weight="bold" text-anchor="middle" fill="#111">0h</text>
<text x="64.5" y="917.5" font-size="8.2" font-weight="bold" text-anchor="middle" fill="#111" textLength="15.2" lengthAdjust="spacingAndGlyphs">48h</text>
<rect x="89.0" y="812.3" width="103.2" height="63.3" fill="#d2d2d2"/>
<rect x="89.0" y="812.3" width="103.2" height="63.3" filter="url(#gn)" opacity="0.2"/>
<polygon points="125.8,812.3 143.0,812.3 134.6,875.6 122.0,875.6" fill="#d0d0d0" opacity="0.85"/>
<line x1="125.8" y1="812.3" x2="122.0" y2="875.6" stroke="#d44c40" stroke-width="1.0"/>
<line x1="143.0" y1="812.3" x2="134.6" y2="875.6" stroke="#d44c40" stroke-width="1.0"/>
<line x1="170.2" y1="871.8000000000001" x2="190.39999999999998" y2="871.8000000000001" stroke="#111" stroke-width="1.2"/>
<text x="180.7" y="875.1" font-size="3.0" text-anchor="middle" fill="#111" textLength="13" lengthAdjust="spacingAndGlyphs" stroke="#111" stroke-width="0.1">500 µm</text>
<rect x="192.2" y="812.3" width="103.4" height="63.3" fill="#a3a4af"/>
<rect x="192.2" y="812.3" width="103.4" height="63.3" filter="url(#gn)" opacity="0.25"/>
<polygon points="227.8,812.3 241.9,812.3 228.8,875.6 213.7,875.6" fill="#b6b6b8" opacity="0.85"/>
<line x1="227.8" y1="812.3" x2="213.7" y2="875.6" stroke="#d44c40" stroke-width="1.0"/>
<line x1="241.9" y1="812.3" x2="228.8" y2="875.6" stroke="#d44c40" stroke-width="1.0"/>
<line x1="273.6" y1="871.8000000000001" x2="293.8" y2="871.8000000000001" stroke="#111" stroke-width="1.2"/>
<text x="284.1" y="875.1" font-size="3.0" text-anchor="middle" fill="#111" textLength="13" lengthAdjust="spacingAndGlyphs" stroke="#111" stroke-width="0.1">500 µm</text>
<rect x="295.6" y="812.3" width="103.4" height="63.3" fill="#bcbcbc"/>
<rect x="295.6" y="812.3" width="103.4" height="63.3" filter="url(#gn)" opacity="0.2"/>
<polygon points="334.0,812.3 346.5,812.3 339.6,875.6 328.3,875.6" fill="#c6c6c6" opacity="0.85"/>
<line x1="334.0" y1="812.3" x2="328.3" y2="875.6" stroke="#d44c40" stroke-width="1.0"/>
<line x1="346.5" y1="812.3" x2="339.6" y2="875.6" stroke="#d44c40" stroke-width="1.0"/>
<line x1="377.0" y1="871.8000000000001" x2="397.2" y2="871.8000000000001" stroke="#111" stroke-width="1.2"/>
<text x="387.5" y="875.1" font-size="3.0" text-anchor="middle" fill="#111" textLength="13" lengthAdjust="spacingAndGlyphs" stroke="#111" stroke-width="0.1">500 µm</text>
<rect x="399.0" y="812.3" width="102.6" height="63.3" fill="#cbcbcb"/>
<rect x="399.0" y="812.3" width="102.6" height="63.3" filter="url(#gn)" opacity="0.2"/>
<polygon points="436.9,812.3 452.6,812.3 438.1,875.6 423.4,875.6" fill="#cecece" opacity="0.85"/>
<line x1="436.9" y1="812.3" x2="423.4" y2="875.6" stroke="#d44c40" stroke-width="1.0"/>
<line x1="452.6" y1="812.3" x2="438.1" y2="875.6" stroke="#d44c40" stroke-width="1.0"/>
<line x1="479.6" y1="871.8000000000001" x2="499.8" y2="871.8000000000001" stroke="#111" stroke-width="1.2"/>
<text x="490.1" y="875.1" font-size="3.0" text-anchor="middle" fill="#111" textLength="13" lengthAdjust="spacingAndGlyphs" stroke="#111" stroke-width="0.1">500 µm</text>
<rect x="501.6" y="812.3" width="103.3" height="63.3" fill="#d0d0d0"/>
<rect x="501.6" y="812.3" width="103.3" height="63.3" filter="url(#gn)" opacity="0.2"/>
<polygon points="536.6,812.3 549.1,812.3 544.4,875.6 531.2,875.6" fill="#d4d4d4" opacity="0.85"/>
<line x1="536.6" y1="812.3" x2="531.2" y2="875.6" stroke="#d44c40" stroke-width="1.0"/>
<line x1="549.1" y1="812.3" x2="544.4" y2="875.6" stroke="#d44c40" stroke-width="1.0"/>
<line x1="582.9" y1="871.8000000000001" x2="603.1" y2="871.8000000000001" stroke="#111" stroke-width="1.2"/>
<text x="593.4" y="875.1" font-size="3.0" text-anchor="middle" fill="#111" textLength="13" lengthAdjust="spacingAndGlyphs" stroke="#111" stroke-width="0.1">500 µm</text>
<rect x="89.0" y="877.2" width="103.2" height="65.0" fill="#cfcfcf"/>
<rect x="89.0" y="877.2" width="103.2" height="65.0" filter="url(#gn)" opacity="0.16"/>
<line x1="170.2" y1="938.4000000000001" x2="190.39999999999998" y2="938.4000000000001" stroke="#111" stroke-width="1.2"/>
<text x="180.7" y="941.7" font-size="3.0" text-anchor="middle" fill="#111" textLength="13" lengthAdjust="spacingAndGlyphs" stroke="#111" stroke-width="0.1">500 µm</text>
<rect x="192.2" y="877.2" width="103.4" height="65.0" fill="#8b938d"/>
<g clip-path="url(#c11)"><path d="M185,880 L300,880 L300,878 C280,884 262,890 245,893 C225,897 205,899 185,897 Z" fill="#828a84" filter="url(#bl6)" opacity="0.8"/><path d="M185,904 C205,910 230,903 250,893 C265,886 285,879 300,874 L300,886 C280,893 262,901 245,910 C225,920 205,922 185,916 Z" fill="#b8c0ba" filter="url(#bl3)"/><path d="M185,930 L250,936 L250,950 L185,950 Z" fill="#7e8680" filter="url(#bl6)" opacity="0.6"/></g>
<rect x="192.2" y="877.2" width="103.4" height="65.0" filter="url(#gn)" opacity="0.1"/>
<line x1="232.5" y1="877.2" x2="224.7" y2="942.2" stroke="#d44c40" stroke-width="1.0"/>
<line x1="248.2" y1="877.2" x2="239.4" y2="942.2" stroke="#d44c40" stroke-width="1.0"/>
<line x1="273.6" y1="938.4000000000001" x2="293.8" y2="938.4000000000001" stroke="#111" stroke-width="1.2"/>
<text x="284.1" y="941.7" font-size="3.0" text-anchor="middle" fill="#111" textLength="13" lengthAdjust="spacingAndGlyphs" stroke="#111" stroke-width="0.1">500 µm</text>
<rect x="295.6" y="877.2" width="103.4" height="65.0" fill="#b8babc"/>
<g clip-path="url(#c12)"><path d="M285,870 L335,870 L340,950 L285,950 Z" fill="#8e8f92" filter="url(#bl6)" opacity="0.75"/></g>
<rect x="295.6" y="877.2" width="103.4" height="65.0" filter="url(#gn)" opacity="0.22"/>
<polygon points="327.0,877.2 337.7,877.2 334.0,942.2 323.0,942.2" fill="#bcbcbe" opacity="0.85"/>
<line x1="327.0" y1="877.2" x2="323.0" y2="942.2" stroke="#d44c40" stroke-width="1.0"/>
<line x1="337.7" y1="877.2" x2="334.0" y2="942.2" stroke="#d44c40" stroke-width="1.0"/>
<line x1="377.0" y1="938.4000000000001" x2="397.2" y2="938.4000000000001" stroke="#111" stroke-width="1.2"/>
<text x="387.5" y="941.7" font-size="3.0" text-anchor="middle" fill="#111" textLength="13" lengthAdjust="spacingAndGlyphs" stroke="#111" stroke-width="0.1">500 µm</text>
<rect x="399.0" y="877.2" width="102.6" height="65.0" fill="#c2c2c6"/>
<rect x="399.0" y="877.2" width="102.6" height="65.0" filter="url(#gn)" opacity="0.18"/>
<line x1="479.6" y1="938.4000000000001" x2="499.8" y2="938.4000000000001" stroke="#111" stroke-width="1.2"/>
<text x="490.1" y="941.7" font-size="3.0" text-anchor="middle" fill="#111" textLength="13" lengthAdjust="spacingAndGlyphs" stroke="#111" stroke-width="0.1">500 µm</text>
<rect x="501.6" y="877.2" width="103.3" height="65.0" fill="#9ea2ab"/>
<g clip-path="url(#c14)"><ellipse cx="585" cy="900" rx="30" ry="22" fill="none" stroke="#c0c6d0" stroke-width="3" filter="url(#bl3)"/></g>
<rect x="501.6" y="877.2" width="103.3" height="65.0" filter="url(#gn)" opacity="0.12"/>
<polygon points="536.6,877.2 548.4,877.2 552.0,942.2 539.4,942.2" fill="#a8adb5" opacity="0.85"/>
<line x1="536.6" y1="877.2" x2="539.4" y2="942.2" stroke="#d44c40" stroke-width="1.0"/>
<line x1="548.4" y1="877.2" x2="552.0" y2="942.2" stroke="#d44c40" stroke-width="1.0"/>
<line x1="582.9" y1="938.4000000000001" x2="603.1" y2="938.4000000000001" stroke="#111" stroke-width="1.2"/>
<text x="593.4" y="941.7" font-size="3.0" text-anchor="middle" fill="#111" textLength="13" lengthAdjust="spacingAndGlyphs" stroke="#111" stroke-width="0.1">500 µm</text>
<!--END-->
</svg></body></html>
